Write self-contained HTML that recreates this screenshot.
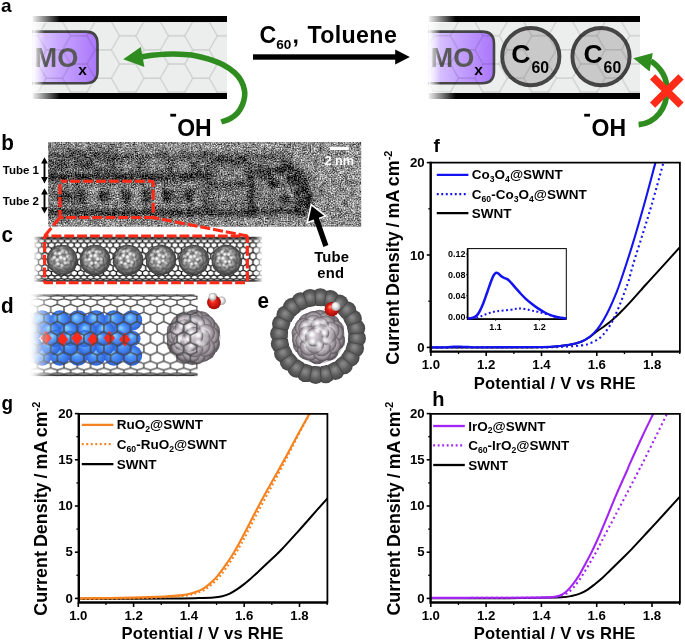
<!DOCTYPE html>
<html><head><meta charset="utf-8"><title>figure</title>
<style>html,body{margin:0;padding:0;background:#fff;}svg{display:block;will-change:transform;}text{font-family:"Liberation Sans",sans-serif;}</style></head>
<body>
<svg width="685" height="642" viewBox="0 0 685 642">
<defs>
<pattern id="hexL" width="48.9" height="28.23" patternUnits="userSpaceOnUse" patternTransform="translate(62.5,7.6)"><path d="M0,14.12 L8.15,0 L24.45,0 L32.6,14.12 L24.45,28.23 L8.15,28.23 Z M32.6,14.12 L48.9,14.12" fill="none" stroke="#000" stroke-width="0.7"/></pattern>
<pattern id="hexR" width="48.9" height="28.23" patternUnits="userSpaceOnUse" patternTransform="translate(34.7,7.5)"><path d="M0,14.12 L8.15,0 L24.45,0 L32.6,14.12 L24.45,28.23 L8.15,28.23 Z M32.6,14.12 L48.9,14.12" fill="none" stroke="#000" stroke-width="0.7"/></pattern>
<linearGradient id="fadeL" x1="0" x2="1" y1="0" y2="0"><stop offset="0" stop-color="#fff" stop-opacity="1"/><stop offset="1" stop-color="#fff" stop-opacity="0"/></linearGradient>
<linearGradient id="purp" x1="0" x2="1" y1="0" y2="0"><stop offset="0" stop-color="#e6d9ff"/><stop offset="0.45" stop-color="#c7a6ff"/><stop offset="1" stop-color="#aa76fb"/></linearGradient>
<filter id="tem" filterUnits="userSpaceOnUse" x="48.2" y="142" width="313" height="84.8" color-interpolation-filters="sRGB"><feTurbulence type="fractalNoise" baseFrequency="0.7" numOctaves="2" seed="11" result="n"/><feColorMatrix in="n" type="matrix" values="1 0 0 0 0  1 0 0 0 0  1 0 0 0 0  0 0 0 0 1" result="g"/><feTurbulence type="fractalNoise" baseFrequency="0.16" numOctaves="2" seed="5" result="n2"/><feColorMatrix in="n2" type="matrix" values="0 1 0 0 0  0 1 0 0 0  0 1 0 0 0  0 0 0 0 1" result="g2"/><feComposite in="SourceGraphic" in2="g2" operator="arithmetic" k1="0" k2="1" k3="0.4" k4="-0.2" result="s2"/><feComposite in="s2" in2="g" operator="arithmetic" k1="0" k2="1" k3="1.2" k4="-0.6" result="s3"/><feGaussianBlur in="s3" stdDeviation="0.6"/></filter>
<filter id="bl2" x="-20%" y="-50%" width="140%" height="200%"><feGaussianBlur stdDeviation="1.9"/></filter>
<filter id="bl4" x="-20%" y="-50%" width="140%" height="200%"><feGaussianBlur stdDeviation="4"/></filter>
<clipPath id="temclip"><rect x="48.2" y="142" width="313" height="84.8"/></clipPath>
<radialGradient id="gC" cx="0.5" cy="0.5" r="0.5" fx="0.42" fy="0.38"><stop offset="0" stop-color="#c2c2c2"/><stop offset="0.45" stop-color="#9c9c9c"/><stop offset="0.8" stop-color="#7a7a7a"/><stop offset="1" stop-color="#565656"/></radialGradient>
<radialGradient id="gL" cx="0.5" cy="0.5" r="0.5" fx="0.42" fy="0.38"><stop offset="0" stop-color="#e4dee4"/><stop offset="0.45" stop-color="#c8c0c8"/><stop offset="0.78" stop-color="#a79fa7"/><stop offset="1" stop-color="#6a636a"/></radialGradient>
<radialGradient id="gT" cx="0.5" cy="0.5" r="0.5" fx="0.46" fy="0.42"><stop offset="0" stop-color="#8e8e8e"/><stop offset="0.3" stop-color="#767676"/><stop offset="0.55" stop-color="#5e5e5e"/><stop offset="0.8" stop-color="#515151"/><stop offset="1" stop-color="#444"/></radialGradient>
<radialGradient id="gB" cx="0.5" cy="0.5" r="0.5" fx="0.36" fy="0.32"><stop offset="0" stop-color="#8ad6ff"/><stop offset="0.4" stop-color="#4f96fa"/><stop offset="1" stop-color="#2c62d8"/></radialGradient>
<radialGradient id="gR" cx="0.5" cy="0.5" r="0.5" fx="0.36" fy="0.32"><stop offset="0" stop-color="#ff9a82"/><stop offset="0.35" stop-color="#f5261a"/><stop offset="1" stop-color="#a00d08"/></radialGradient>
<radialGradient id="gW" cx="0.5" cy="0.5" r="0.5" fx="0.36" fy="0.32"><stop offset="0" stop-color="#ffffff"/><stop offset="0.5" stop-color="#ececec"/><stop offset="1" stop-color="#a0a0a0"/></radialGradient>
<radialGradient id="shade" cx="0.5" cy="0.5" r="0.5" fx="0.42" fy="0.38"><stop offset="0.35" stop-color="#000" stop-opacity="0"/><stop offset="0.8" stop-color="#000" stop-opacity="0.12"/><stop offset="1" stop-color="#000" stop-opacity="0.42"/></radialGradient>
<radialGradient id="hl" cx="0.5" cy="0.5" r="0.5"><stop offset="0" stop-color="#fff" stop-opacity="1"/><stop offset="0.35" stop-color="#fff" stop-opacity="0.75"/><stop offset="1" stop-color="#fff" stop-opacity="0"/></radialGradient>
<pattern id="meshC" width="6.5" height="45.4" patternUnits="userSpaceOnUse" patternTransform="translate(35.2,236.5)"><path d="M3.25,1L3.25,1.1M0,1.39L0,2.56M-3.25,1.1L0,1.39M6.5,1.39L6.5,2.56M3.25,1.1L6.5,1.39M3.25,1.1L0,1.39M9.75,1.1L6.5,1.39M3.25,3.41L3.25,5.65M0,2.56L3.25,3.41M0,2.56L-3.25,3.41M6.5,2.56L9.75,3.41M6.5,2.56L3.25,3.41M0,7L0,10.12M-3.25,5.65L0,7M6.5,7L6.5,10.12M3.25,5.65L6.5,7M3.25,5.65L0,7M9.75,5.65L6.5,7M3.25,11.85L3.25,15.61M0,10.12L3.25,11.85M0,10.12L-3.25,11.85M6.5,10.12L9.75,11.85M6.5,10.12L3.25,11.85M0,17.59L0,21.67M-3.25,15.61L0,17.59M6.5,17.59L6.5,21.67M3.25,15.61L6.5,17.59M3.25,15.61L0,17.59M9.75,15.61L6.5,17.59M3.25,23.74L3.25,27.82M0,21.67L3.25,23.74M0,21.67L-3.25,23.74M6.5,21.67L9.75,23.74M6.5,21.67L3.25,23.74M0,29.8L0,33.55M-3.25,27.82L0,29.8M6.5,29.8L6.5,33.55M3.25,27.82L6.5,29.8M3.25,27.82L0,29.8M9.75,27.82L6.5,29.8M3.25,35.29L3.25,38.41M0,33.55L3.25,35.29M0,33.55L-3.25,35.29M6.5,33.55L9.75,35.29M6.5,33.55L3.25,35.29M0,39.76L0,41.99M-3.25,38.41L0,39.76M6.5,39.76L6.5,41.99M3.25,38.41L6.5,39.76M3.25,38.41L0,39.76M9.75,38.41L6.5,39.76M3.25,42.85L3.25,44.01M0,41.99L3.25,42.85M0,41.99L-3.25,42.85M6.5,41.99L9.75,42.85M6.5,41.99L3.25,42.85M0,44.3L0,44.4M-3.25,44.01L0,44.3M6.5,44.3L6.5,44.4M3.25,44.01L6.5,44.3M3.25,44.01L0,44.3M9.75,44.01L6.5,44.3" fill="none" stroke="#1c1c1c" stroke-width="1.35" stroke-linecap="round"/></pattern>
<linearGradient id="fadeR" x1="1" x2="0" y1="0" y2="0"><stop offset="0" stop-color="#fff" stop-opacity="1"/><stop offset="1" stop-color="#fff" stop-opacity="0"/></linearGradient>
<pattern id="meshD" width="13.3" height="82.4" patternUnits="userSpaceOnUse" patternTransform="translate(37.4,294)"><path d="M6.65,1L6.65,1.61M0,2.37L0,4.76M-6.65,1.61L0,2.37M13.3,2.37L13.3,4.76M6.65,1.61L13.3,2.37M6.65,1.61L0,2.37M19.95,1.61L13.3,2.37M6.65,6.38L6.65,10.4M0,4.76L6.65,6.38M0,4.76L-6.65,6.38M13.3,4.76L19.95,6.38M13.3,4.76L6.65,6.38M0,12.77L0,18.13M-6.65,10.4L0,12.77M13.3,12.77L13.3,18.13M6.65,10.4L13.3,12.77M6.65,10.4L0,12.77M19.95,10.4L13.3,12.77M6.65,21.09L6.65,27.44M0,18.13L6.65,21.09M0,18.13L-6.65,21.09M13.3,18.13L19.95,21.09M13.3,18.13L6.65,21.09M0,30.79L0,37.69M-6.65,27.44L0,30.79M13.3,30.79L13.3,37.69M6.65,27.44L13.3,30.79M6.65,27.44L0,30.79M19.95,27.44L13.3,30.79M6.65,41.19L6.65,48.17M0,37.69L6.65,41.19M0,37.69L-6.65,41.19M13.3,37.69L19.95,41.19M13.3,37.69L6.65,41.19M0,51.59L0,58.18M-6.65,48.17L0,51.59M13.3,51.59L13.3,58.18M6.65,48.17L13.3,51.59M6.65,48.17L0,51.59M19.95,48.17L13.3,51.59M6.65,61.29L6.65,67.03M0,58.18L6.65,61.29M0,58.18L-6.65,61.29M13.3,58.18L19.95,61.29M13.3,58.18L6.65,61.29M0,69.62L0,74.12M-6.65,67.03L0,69.62M13.3,69.62L13.3,74.12M6.65,67.03L13.3,69.62M6.65,67.03L0,69.62M19.95,67.03L13.3,69.62M6.65,76.01L6.65,78.97M0,74.12L6.65,76.01M0,74.12L-6.65,76.01M13.3,74.12L19.95,76.01M13.3,74.12L6.65,76.01M0,80.03L0,81.25M-6.65,78.97L0,80.03M13.3,80.03L13.3,81.25M6.65,78.97L13.3,80.03M6.65,78.97L0,80.03M19.95,78.97L13.3,80.03M6.65,81.4L6.65,81.4M0,81.25L6.65,81.4M0,81.25L-6.65,81.4M13.3,81.25L19.95,81.4M13.3,81.25L6.65,81.4" fill="none" stroke="#444" stroke-width="1.35" stroke-linecap="round"/></pattern>
<clipPath id="w0"><path d="M318,336.1 L381.82,331.31 L380.79,348.49 Z"/></clipPath>
<clipPath id="w1"><path d="M318,336.1 L380.89,347.99 L375.44,364.32 Z"/></clipPath>
<clipPath id="w2"><path d="M318,336.1 L375.66,363.86 L366.18,378.23 Z"/></clipPath>
<clipPath id="w3"><path d="M318,336.1 L366.51,377.84 L353.63,389.26 Z"/></clipPath>
<clipPath id="w4"><path d="M318,336.1 L354.06,388.98 L338.66,396.67 Z"/></clipPath>
<clipPath id="w5"><path d="M318,336.1 L339.14,396.51 L322.28,399.96 Z"/></clipPath>
<clipPath id="w6"><path d="M318,336.1 L322.79,399.92 L305.61,398.89 Z"/></clipPath>
<clipPath id="w7"><path d="M318,336.1 L306.11,398.99 L289.78,393.54 Z"/></clipPath>
<clipPath id="w8"><path d="M318,336.1 L290.24,393.76 L275.87,384.28 Z"/></clipPath>
<clipPath id="w9"><path d="M318,336.1 L276.26,384.61 L264.84,371.73 Z"/></clipPath>
<clipPath id="w10"><path d="M318,336.1 L265.12,372.16 L257.43,356.76 Z"/></clipPath>
<clipPath id="w11"><path d="M318,336.1 L257.59,357.24 L254.14,340.38 Z"/></clipPath>
<clipPath id="w12"><path d="M318,336.1 L254.18,340.89 L255.21,323.71 Z"/></clipPath>
<clipPath id="w13"><path d="M318,336.1 L255.11,324.21 L260.56,307.88 Z"/></clipPath>
<clipPath id="w14"><path d="M318,336.1 L260.34,308.34 L269.82,293.97 Z"/></clipPath>
<clipPath id="w15"><path d="M318,336.1 L269.49,294.36 L282.37,282.94 Z"/></clipPath>
<clipPath id="w16"><path d="M318,336.1 L281.94,283.22 L297.34,275.53 Z"/></clipPath>
<clipPath id="w17"><path d="M318,336.1 L296.86,275.69 L313.72,272.24 Z"/></clipPath>
<clipPath id="w18"><path d="M318,336.1 L313.21,272.28 L330.39,273.31 Z"/></clipPath>
<clipPath id="w19"><path d="M318,336.1 L329.89,273.21 L346.22,278.66 Z"/></clipPath>
<clipPath id="w20"><path d="M318,336.1 L345.76,278.44 L360.13,287.92 Z"/></clipPath>
<clipPath id="w21"><path d="M318,336.1 L359.74,287.59 L371.16,300.47 Z"/></clipPath>
<clipPath id="w22"><path d="M318,336.1 L370.88,300.04 L378.57,315.44 Z"/></clipPath>
<clipPath id="w23"><path d="M318,336.1 L378.41,314.96 L381.86,331.82 Z"/></clipPath>
<radialGradient id="ringshade" cx="0.5" cy="0.5" r="0.5"><stop offset="0.62" stop-color="#fff" stop-opacity="1"/><stop offset="0.66" stop-color="#fff" stop-opacity="0"/></radialGradient>
<clipPath id="clip593"><rect x="430.7" y="162.6" width="249.2" height="189"/></clipPath>
<clipPath id="clipins"><rect x="467.6" y="248.6" width="98.7" height="71.6"/></clipPath>
<clipPath id="clip492"><rect x="78.8" y="413.8" width="248.6" height="188.7"/></clipPath>
<clipPath id="clip844"><rect x="430.6" y="413.8" width="249.3" height="188.7"/></clipPath>
</defs>
<rect width="685" height="642" fill="#fff"/>
<text x="1" y="11.8" font-family="Liberation Sans, sans-serif" font-weight="bold" font-size="19" fill="#000">a</text>
<rect x="32" y="22" width="195" height="71" fill="#eceded"/>
<rect x="32" y="16" width="195" height="6" fill="#000"/>
<rect x="32" y="93" width="195" height="6" fill="#000"/>
<path d="M28,31.6 L85.5,31.6 Q97.5,31.6 97.5,43.6 L97.5,71.2 Q97.5,83.2 85.5,83.2 L28,83.2" fill="url(#purp)" stroke="#454545" stroke-width="2.6"/>
<text x="34.6" y="66.6" font-family="Liberation Sans, sans-serif" font-weight="bold" font-size="27.2" fill="#595959">MO</text>
<text x="78.2" y="74.8" font-family="Liberation Sans, sans-serif" font-weight="bold" font-size="15.5" fill="#000">x</text>
<rect x="428" y="22" width="212" height="71" fill="#eceded"/>
<rect x="428" y="16" width="212" height="6" fill="#000"/>
<rect x="428" y="93" width="212" height="6" fill="#000"/>
<path d="M424,31.6 L482,31.6 Q494,31.6 494,43.6 L494,71.2 Q494,83.2 482,83.2 L424,83.2" fill="url(#purp)" stroke="#454545" stroke-width="2.6"/>
<text x="430.6" y="66.6" font-family="Liberation Sans, sans-serif" font-weight="bold" font-size="27.2" fill="#595959">MO</text>
<text x="474.2" y="74.8" font-family="Liberation Sans, sans-serif" font-weight="bold" font-size="15.5" fill="#000">x</text>
<circle cx="530.8" cy="56.6" r="28.6" fill="#c9c9c9" stroke="#454545" stroke-width="3.9"/>
<text x="511.2" y="62.8" font-family="Liberation Sans, sans-serif" font-weight="bold" font-size="26.5" fill="#000">C</text>
<text x="531.4" y="72.8" font-family="Liberation Sans, sans-serif" font-weight="bold" font-size="15.8" fill="#000">60</text>
<circle cx="601" cy="56.6" r="28.6" fill="#c9c9c9" stroke="#454545" stroke-width="3.9"/>
<text x="583.4" y="62.8" font-family="Liberation Sans, sans-serif" font-weight="bold" font-size="26.5" fill="#000">C</text>
<text x="603.6" y="72.8" font-family="Liberation Sans, sans-serif" font-weight="bold" font-size="15.8" fill="#000">60</text>
<rect x="32" y="22" width="195" height="71" fill="url(#hexL)" opacity="0.27"/>
<rect x="32.5" y="22" width="12" height="71" fill="url(#fadeL)"/>
<rect x="31" y="15" width="29" height="8" fill="url(#fadeL)"/>
<rect x="31" y="92" width="29" height="8" fill="url(#fadeL)"/>
<rect x="25" y="14" width="7.6" height="87" fill="#fff"/>
<rect x="428" y="22" width="212" height="71" fill="url(#hexR)" opacity="0.27"/>
<rect x="428.5" y="22" width="12" height="71" fill="url(#fadeL)"/>
<rect x="427" y="15" width="29" height="8" fill="url(#fadeL)"/>
<rect x="427" y="92" width="29" height="8" fill="url(#fadeL)"/>
<rect x="421" y="14" width="7.6" height="87" fill="#fff"/>
<rect x="253" y="54.3" width="144" height="5.4" fill="#000"/>
<path d="M395.2,49.4 L409.8,57 L395.2,64.6 Z" fill="#000"/>
<text x="259.4" y="42.8" font-family="Liberation Sans, sans-serif" font-weight="bold" font-size="23.2" fill="#000">C<tspan font-size="13.6" dy="6.6">60</tspan></text>
<text x="292.4" y="42.8" font-family="Liberation Sans, sans-serif" font-weight="bold" font-size="23.2" fill="#000">,</text>
<text x="307.4" y="42.8" font-family="Liberation Sans, sans-serif" font-weight="bold" font-size="23.2" textLength="89.4" fill="#000">Toluene</text>
<path d="M142,56.8 C143.67,56.55 148.17,55.73 152,55.3 C155.83,54.87 160.33,54.38 165,54.2 C169.67,54.02 175.17,54 180,54.2 C184.83,54.4 189.33,54.62 194,55.4 C198.67,56.18 203.17,57.33 208,58.9 C212.83,60.47 218.57,62.52 223,64.8 C227.43,67.08 231.57,69.93 234.6,72.6 C237.63,75.27 239.57,77.93 241.2,80.8 C242.83,83.67 243.83,87.18 244.4,89.8 C244.97,92.42 244.92,94.03 244.6,96.5 C244.28,98.97 243.67,101.87 242.5,104.6 C241.33,107.33 239.62,110.58 237.6,112.9 C235.58,115.22 233.12,116.98 230.4,118.5 C227.68,120.02 222.82,121.42 221.3,122" fill="none" stroke="#2f8c1f" stroke-width="5.6" stroke-linecap="butt"/>
<path d="M123.2,59.2 L140.8,47 L144.4,67 Z" fill="#2f8c1f"/>
<text x="177.2" y="136.2" font-family="Liberation Sans, sans-serif" font-weight="bold" font-size="23" fill="#000">OH</text>
<rect x="170.3" y="113.8" width="5.8" height="2.8" fill="#000"/>
<path d="M638.6,124.6 C656,123 667,108 667,90 C667,78 661,68 651,61" fill="none" stroke="#2f8c1f" stroke-width="5.6"/>
<path d="M633.4,58.2 L652.8,53 L649.6,71.4 Z" fill="#2f8c1f"/>
<path d="M652.6,76.8 L681,105.2 M681,76.8 L652.6,105.2" stroke="#ff2a17" stroke-width="7.4" fill="none"/>
<text x="591.6" y="136.4" font-family="Liberation Sans, sans-serif" font-weight="bold" font-size="23" fill="#000">OH</text>
<rect x="584.2" y="113.8" width="5.8" height="2.8" fill="#000"/>
<text transform="translate(1.2,150) scale(0.92,1)" font-family="Liberation Sans, sans-serif" font-weight="bold" font-size="22.5" fill="#000">b</text>
<text transform="translate(1.6,242.4) scale(0.92,1)" font-family="Liberation Sans, sans-serif" font-weight="bold" font-size="22.5" fill="#000">c</text>
<g clip-path="url(#temclip)"><g filter="url(#tem)">
<rect x="40" y="136" width="330" height="100" fill="#8e8e8e"/>
<g filter="url(#bl4)">
<path d="M40,152 L285,154 C300,158 312,172 316,208 L316,216 L40,218 Z" fill="#787878"/>
<path d="M40,148 L120,150 L120,172 L40,172 Z" fill="#5e5e5e"/>
</g>
<g filter="url(#bl2)" fill="none" stroke-linecap="round">
<path d="M40,156 L282,157" stroke="#4a4a4a" stroke-width="4.5"/>
<path d="M40,177 L180,177 L210,175" stroke="#262626" stroke-width="6.5"/>
<path d="M40,212.5 L200,213 L305,212" stroke="#282828" stroke-width="5.5"/>
<path d="M284,164 C300,170 309,186 310,206" stroke="#1c1c1c" stroke-width="5.5"/>
<circle cx="64" cy="196" r="6.2" fill="#2e2e2e" stroke="none"/>
<circle cx="80" cy="196" r="6.2" fill="#2e2e2e" stroke="none"/>
<circle cx="104" cy="196" r="6.2" fill="#2e2e2e" stroke="none"/>
<circle cx="126" cy="196" r="6.2" fill="#2e2e2e" stroke="none"/>
<circle cx="147" cy="196" r="6.2" fill="#2e2e2e" stroke="none"/>
<circle cx="168" cy="196" r="6.2" fill="#2e2e2e" stroke="none"/>
<circle cx="188" cy="196" r="6.2" fill="#2e2e2e" stroke="none"/>
<rect x="90" y="186" width="6" height="18" fill="#989898" stroke="none"/>
<rect x="113" y="186" width="6" height="18" fill="#989898" stroke="none"/>
<rect x="133" y="186" width="6" height="18" fill="#989898" stroke="none"/>
<rect x="154" y="186" width="6" height="18" fill="#989898" stroke="none"/>
<circle cx="58" cy="166" r="4.5" fill="#484848" stroke="none"/>
<circle cx="84" cy="166" r="4.5" fill="#484848" stroke="none"/>
<circle cx="110" cy="166" r="4.5" fill="#484848" stroke="none"/>
<circle cx="140" cy="166" r="4.5" fill="#484848" stroke="none"/>
<circle cx="170" cy="166" r="4.5" fill="#484848" stroke="none"/>
<circle cx="196" cy="166" r="4.5" fill="#484848" stroke="none"/>
<circle cx="125" cy="165" r="4" fill="#8e8e8e" stroke="none"/>
<circle cx="155" cy="165" r="4" fill="#8e8e8e" stroke="none"/>
<circle cx="184" cy="165" r="4" fill="#8e8e8e" stroke="none"/>
<rect x="208" y="162" width="42" height="50" rx="8" stroke="#343434" stroke-width="4.5"/>
<rect x="252" y="170" width="46" height="42" rx="8" stroke="#343434" stroke-width="4.5"/>
<path d="M208,186 L250,184" stroke="#444" stroke-width="4"/>
<circle cx="281" cy="170" r="4.8" fill="#262626" stroke="none"/>
<circle cx="291" cy="180" r="4.8" fill="#262626" stroke="none"/>
<circle cx="299" cy="192" r="4.8" fill="#262626" stroke="none"/>
<circle cx="304" cy="203" r="4.8" fill="#262626" stroke="none"/>
<circle cx="274" cy="184" r="4.8" fill="#262626" stroke="none"/>
<circle cx="285" cy="200" r="4.8" fill="#262626" stroke="none"/>
<circle cx="266" cy="176" r="4.8" fill="#262626" stroke="none"/>
</g>
</g></g>
<rect x="330" y="146.8" width="18.8" height="3.2" fill="#fff"/>
<text x="339.2" y="165.3" font-family="Liberation Sans, sans-serif" font-weight="bold" font-size="12.6" fill="#fff" text-anchor="middle">2 nm</text>
<text x="2.8" y="174.4" font-family="Liberation Sans, sans-serif" font-weight="bold" font-size="11.5" fill="#000">Tube 1</text>
<text x="2.8" y="205" font-family="Liberation Sans, sans-serif" font-weight="bold" font-size="11.5" fill="#000">Tube 2</text>
<path d="M44.5,161.2 L44.5,179.4" stroke="#000" stroke-width="1.9" fill="none"/>
<path d="M44.5,157.2 l3.4,6.4 l-6.8,0 Z M44.5,183.4 l3.4,-6.4 l-6.8,0 Z" fill="#000"/>
<path d="M44.5,192.2 L44.5,209.6" stroke="#000" stroke-width="1.9" fill="none"/>
<path d="M44.5,188.2 l3.4,6.4 l-6.8,0 Z M44.5,213.6 l3.4,-6.4 l-6.8,0 Z" fill="#000"/>
<rect x="60" y="181.3" width="93.2" height="36.2" rx="1.6" fill="none" stroke="#ff2a17" stroke-width="3.1" stroke-dasharray="10.1,2.84" stroke-dashoffset="4.4"/>
<path d="M60,217.5 L44.6,236" stroke="#ff2a17" stroke-width="3.1" fill="none" stroke-dasharray="10.4,3.2"/>
<path d="M153.2,217.5 L247.4,236" stroke="#ff2a17" stroke-width="3.1" fill="none" stroke-dasharray="10.1,2.9" stroke-dashoffset="4"/>
<path d="M311.7,206 L324.1,215.8 L308.3,221.5 Z" fill="#000" stroke="#fff" stroke-width="3.2" stroke-linejoin="miter"/>
<path d="M311.7,206 L324.1,215.8 L318.8,217.7 L328.4,245.1 L323.4,246.9 L313.7,219.5 L308.3,221.5 Z" fill="#000"/>
<text x="314.3" y="262.2" font-family="Liberation Sans, sans-serif" font-weight="bold" font-size="14.8" textLength="34.6" fill="#000">Tube</text>
<text x="317.2" y="278" font-family="Liberation Sans, sans-serif" font-weight="bold" font-size="14.8" textLength="26.8" fill="#000">end</text>
<rect x="34" y="236.5" width="228" height="45.4" fill="url(#meshC)"/>
<path d="M34,237.5 L262,237.5 M34,280.9 L262,280.9" stroke="#3a3a3a" stroke-width="1"/>
<g>
<circle cx="65.6" cy="269.44" r="5.31" fill="url(#gC)"/>
<circle cx="54.8" cy="253.19" r="5.31" fill="url(#gC)"/>
<circle cx="72.27" cy="261.48" r="5.31" fill="url(#gC)"/>
<circle cx="58.07" cy="250.69" r="5.31" fill="url(#gC)"/>
<circle cx="52.05" cy="261.02" r="5.31" fill="url(#gC)"/>
<circle cx="70.89" cy="265.4" r="5.31" fill="url(#gC)"/>
<circle cx="58.5" cy="269.57" r="5.31" fill="url(#gC)"/>
<circle cx="53.1" cy="264.85" r="5.31" fill="url(#gC)"/>
<circle cx="71.3" cy="255.15" r="5.31" fill="url(#gC)"/>
<circle cx="65.9" cy="250.43" r="5.31" fill="url(#gC)"/>
<circle cx="53.51" cy="254.6" r="5.31" fill="url(#gC)"/>
<circle cx="72.35" cy="258.98" r="5.31" fill="url(#gC)"/>
<circle cx="66.33" cy="269.31" r="5.31" fill="url(#gC)"/>
<circle cx="52.13" cy="258.52" r="5.31" fill="url(#gC)"/>
<circle cx="69.6" cy="266.81" r="5.31" fill="url(#gC)"/>
<circle cx="58.8" cy="250.56" r="5.31" fill="url(#gC)"/>
<circle cx="68.97" cy="252.73" r="5.31" fill="url(#gC)"/>
<circle cx="59.23" cy="269.44" r="5.31" fill="url(#gC)"/>
<circle cx="53.83" cy="264.73" r="5.31" fill="url(#gC)"/>
<circle cx="62.72" cy="250.43" r="5.31" fill="url(#gC)"/>
<circle cx="55.98" cy="252.98" r="5.31" fill="url(#gC)"/>
<circle cx="63.14" cy="269.31" r="5.31" fill="url(#gC)"/>
<circle cx="53.23" cy="260.81" r="5.31" fill="url(#gC)"/>
<circle cx="71.06" cy="260.4" r="5.31" fill="url(#gC)"/>
<circle cx="56.89" cy="267.02" r="5.31" fill="url(#gC)"/>
<circle cx="69.68" cy="264.32" r="5.31" fill="url(#gC)"/>
<circle cx="67.68" cy="254.14" r="5.31" fill="url(#gC)"/>
<circle cx="63.81" cy="252.73" r="5.31" fill="url(#gC)"/>
<circle cx="57.08" cy="255.27" r="5.31" fill="url(#gC)"/>
<circle cx="63.23" cy="266.81" r="5.31" fill="url(#gC)"/>
<circle cx="68.72" cy="257.98" r="5.31" fill="url(#gC)"/>
<circle cx="55.7" cy="259.19" r="5.31" fill="url(#gC)"/>
<circle cx="59.36" cy="265.4" r="5.31" fill="url(#gC)"/>
<circle cx="66.5" cy="264.32" r="5.31" fill="url(#gC)"/>
<circle cx="60.99" cy="255.15" r="5.31" fill="url(#gC)"/>
<circle cx="58.77" cy="261.48" r="5.31" fill="url(#gC)"/>
<circle cx="65.9" cy="260.4" r="5.31" fill="url(#gC)"/>
<circle cx="62.04" cy="258.98" r="5.31" fill="url(#gC)"/>
<circle cx="62.2" cy="260" r="15.1" fill="url(#shade)" opacity="1.0"/>
<circle cx="52.44" cy="263.13" r="2.44" fill="url(#hl)" opacity="0.25"/>
<circle cx="61.33" cy="248.84" r="2.44" fill="url(#hl)" opacity="0.26"/>
<circle cx="54.6" cy="251.39" r="2.44" fill="url(#hl)" opacity="0.33"/>
<circle cx="61.76" cy="267.72" r="2.44" fill="url(#hl)" opacity="0.34"/>
<circle cx="51.85" cy="259.22" r="2.44" fill="url(#hl)" opacity="0.44"/>
<circle cx="69.68" cy="258.81" r="2.44" fill="url(#hl)" opacity="0.48"/>
<circle cx="55.51" cy="265.43" r="2.44" fill="url(#hl)" opacity="0.5"/>
<circle cx="68.3" cy="262.72" r="2.44" fill="url(#hl)" opacity="0.54"/>
<circle cx="66.3" cy="252.55" r="2.44" fill="url(#hl)" opacity="0.66"/>
<circle cx="62.43" cy="251.13" r="2.44" fill="url(#hl)" opacity="0.76"/>
<circle cx="55.7" cy="253.68" r="2.44" fill="url(#hl)" opacity="0.83"/>
<circle cx="61.85" cy="265.22" r="2.44" fill="url(#hl)" opacity="0.84"/>
<circle cx="67.34" cy="256.39" r="2.44" fill="url(#hl)" opacity="0.85"/>
<circle cx="54.32" cy="257.6" r="2.44" fill="url(#hl)" opacity="0.88"/>
<circle cx="57.98" cy="263.8" r="2.44" fill="url(#hl)" opacity="0.94"/>
<circle cx="65.12" cy="262.72" r="2.44" fill="url(#hl)" opacity="0.94"/>
<circle cx="59.61" cy="253.55" r="2.44" fill="url(#hl)" opacity="1"/>
<circle cx="57.39" cy="259.89" r="2.44" fill="url(#hl)" opacity="1"/>
<circle cx="64.52" cy="258.81" r="2.44" fill="url(#hl)" opacity="1"/>
<circle cx="60.66" cy="257.39" r="2.44" fill="url(#hl)" opacity="1"/>
</g>
<g>
<circle cx="88.97" cy="268.13" r="5.31" fill="url(#gC)"/>
<circle cx="86" cy="255.4" r="5.31" fill="url(#gC)"/>
<circle cx="85.19" cy="262.56" r="5.31" fill="url(#gC)"/>
<circle cx="102.41" cy="267.2" r="5.31" fill="url(#gC)"/>
<circle cx="103.59" cy="254.18" r="5.31" fill="url(#gC)"/>
<circle cx="105.34" cy="261.17" r="5.31" fill="url(#gC)"/>
<circle cx="92.42" cy="269.96" r="5.31" fill="url(#gC)"/>
<circle cx="91.07" cy="250.5" r="5.31" fill="url(#gC)"/>
<circle cx="99.13" cy="269.5" r="5.31" fill="url(#gC)"/>
<circle cx="97.78" cy="250.04" r="5.31" fill="url(#gC)"/>
<circle cx="84.86" cy="258.83" r="5.31" fill="url(#gC)"/>
<circle cx="86.61" cy="265.82" r="5.31" fill="url(#gC)"/>
<circle cx="87.79" cy="252.8" r="5.31" fill="url(#gC)"/>
<circle cx="105.01" cy="257.44" r="5.31" fill="url(#gC)"/>
<circle cx="104.2" cy="264.6" r="5.31" fill="url(#gC)"/>
<circle cx="101.23" cy="251.87" r="5.31" fill="url(#gC)"/>
<circle cx="94.3" cy="250.03" r="5.31" fill="url(#gC)"/>
<circle cx="93.5" cy="269.49" r="5.31" fill="url(#gC)"/>
<circle cx="97.66" cy="269.2" r="5.31" fill="url(#gC)"/>
<circle cx="85.94" cy="258.35" r="5.31" fill="url(#gC)"/>
<circle cx="87.7" cy="265.34" r="5.31" fill="url(#gC)"/>
<circle cx="87.76" cy="254.62" r="5.31" fill="url(#gC)"/>
<circle cx="103.53" cy="257.14" r="5.31" fill="url(#gC)"/>
<circle cx="101.19" cy="253.7" r="5.31" fill="url(#gC)"/>
<circle cx="102.72" cy="264.3" r="5.31" fill="url(#gC)"/>
<circle cx="91.15" cy="267.18" r="5.31" fill="url(#gC)"/>
<circle cx="94.27" cy="251.85" r="5.31" fill="url(#gC)"/>
<circle cx="99.45" cy="266.6" r="5.31" fill="url(#gC)"/>
<circle cx="87.36" cy="261.61" r="5.31" fill="url(#gC)"/>
<circle cx="102.39" cy="260.57" r="5.31" fill="url(#gC)"/>
<circle cx="90.99" cy="254.15" r="5.31" fill="url(#gC)"/>
<circle cx="97.71" cy="253.69" r="5.31" fill="url(#gC)"/>
<circle cx="92.94" cy="264.58" r="5.31" fill="url(#gC)"/>
<circle cx="97.09" cy="264.29" r="5.31" fill="url(#gC)"/>
<circle cx="90.6" cy="261.14" r="5.31" fill="url(#gC)"/>
<circle cx="98.91" cy="260.56" r="5.31" fill="url(#gC)"/>
<circle cx="92.42" cy="257.41" r="5.31" fill="url(#gC)"/>
<circle cx="96.57" cy="257.12" r="5.31" fill="url(#gC)"/>
<circle cx="95.1" cy="260" r="15.1" fill="url(#shade)" opacity="1.0"/>
<circle cx="92.12" cy="267.89" r="2.44" fill="url(#hl)" opacity="0.25"/>
<circle cx="96.27" cy="267.61" r="2.44" fill="url(#hl)" opacity="0.28"/>
<circle cx="84.56" cy="256.76" r="2.44" fill="url(#hl)" opacity="0.36"/>
<circle cx="86.32" cy="263.75" r="2.44" fill="url(#hl)" opacity="0.41"/>
<circle cx="86.38" cy="253.03" r="2.44" fill="url(#hl)" opacity="0.42"/>
<circle cx="102.15" cy="255.55" r="2.44" fill="url(#hl)" opacity="0.47"/>
<circle cx="99.81" cy="252.1" r="2.44" fill="url(#hl)" opacity="0.51"/>
<circle cx="101.34" cy="262.71" r="2.44" fill="url(#hl)" opacity="0.51"/>
<circle cx="89.76" cy="265.58" r="2.44" fill="url(#hl)" opacity="0.63"/>
<circle cx="92.89" cy="250.26" r="2.44" fill="url(#hl)" opacity="0.63"/>
<circle cx="98.07" cy="265.01" r="2.44" fill="url(#hl)" opacity="0.68"/>
<circle cx="85.98" cy="260.01" r="2.44" fill="url(#hl)" opacity="0.68"/>
<circle cx="101.01" cy="258.98" r="2.44" fill="url(#hl)" opacity="0.78"/>
<circle cx="89.61" cy="252.56" r="2.44" fill="url(#hl)" opacity="0.81"/>
<circle cx="96.33" cy="252.1" r="2.44" fill="url(#hl)" opacity="0.85"/>
<circle cx="91.56" cy="262.98" r="2.44" fill="url(#hl)" opacity="1"/>
<circle cx="95.71" cy="262.7" r="2.44" fill="url(#hl)" opacity="1"/>
<circle cx="89.22" cy="259.54" r="2.44" fill="url(#hl)" opacity="1"/>
<circle cx="97.52" cy="258.97" r="2.44" fill="url(#hl)" opacity="1"/>
<circle cx="91.04" cy="255.82" r="2.44" fill="url(#hl)" opacity="1"/>
<circle cx="95.19" cy="255.53" r="2.44" fill="url(#hl)" opacity="1"/>
</g>
<g>
<circle cx="133.54" cy="251.61" r="5.31" fill="url(#gC)"/>
<circle cx="121.6" cy="252.21" r="5.31" fill="url(#gC)"/>
<circle cx="121.96" cy="268.18" r="5.31" fill="url(#gC)"/>
<circle cx="117.97" cy="262.22" r="5.31" fill="url(#gC)"/>
<circle cx="132.27" cy="269.35" r="5.31" fill="url(#gC)"/>
<circle cx="118.96" cy="255.08" r="5.31" fill="url(#gC)"/>
<circle cx="128.24" cy="270.3" r="5.31" fill="url(#gC)"/>
<circle cx="127.76" cy="249.7" r="5.31" fill="url(#gC)"/>
<circle cx="137.04" cy="264.92" r="5.31" fill="url(#gC)"/>
<circle cx="123.73" cy="250.65" r="5.31" fill="url(#gC)"/>
<circle cx="138.03" cy="257.78" r="5.31" fill="url(#gC)"/>
<circle cx="134.04" cy="251.82" r="5.31" fill="url(#gC)"/>
<circle cx="134.4" cy="267.79" r="5.31" fill="url(#gC)"/>
<circle cx="122.46" cy="268.39" r="5.31" fill="url(#gC)"/>
<circle cx="137.78" cy="261.46" r="5.31" fill="url(#gC)"/>
<circle cx="126.33" cy="269.7" r="5.31" fill="url(#gC)"/>
<circle cx="118.46" cy="262.43" r="5.31" fill="url(#gC)"/>
<circle cx="119.45" cy="255.29" r="5.31" fill="url(#gC)"/>
<circle cx="136.28" cy="254.91" r="5.31" fill="url(#gC)"/>
<circle cx="130.47" cy="250.64" r="5.31" fill="url(#gC)"/>
<circle cx="122.4" cy="252.55" r="5.31" fill="url(#gC)"/>
<circle cx="120.71" cy="265.51" r="5.31" fill="url(#gC)"/>
<circle cx="119.21" cy="258.96" r="5.31" fill="url(#gC)"/>
<circle cx="132.49" cy="267.18" r="5.31" fill="url(#gC)"/>
<circle cx="128.46" cy="268.14" r="5.31" fill="url(#gC)"/>
<circle cx="135.88" cy="260.85" r="5.31" fill="url(#gC)"/>
<circle cx="134.95" cy="256.8" r="5.31" fill="url(#gC)"/>
<circle cx="129.14" cy="252.54" r="5.31" fill="url(#gC)"/>
<circle cx="125.11" cy="253.49" r="5.31" fill="url(#gC)"/>
<circle cx="122.84" cy="263.95" r="5.31" fill="url(#gC)"/>
<circle cx="133.24" cy="263.72" r="5.31" fill="url(#gC)"/>
<circle cx="121.91" cy="259.9" r="5.31" fill="url(#gC)"/>
<circle cx="131.38" cy="255.62" r="5.31" fill="url(#gC)"/>
<circle cx="126.71" cy="265.27" r="5.31" fill="url(#gC)"/>
<circle cx="124.86" cy="257.17" r="5.31" fill="url(#gC)"/>
<circle cx="129.66" cy="262.53" r="5.31" fill="url(#gC)"/>
<circle cx="128.74" cy="258.48" r="5.31" fill="url(#gC)"/>
<circle cx="128" cy="260" r="15.1" fill="url(#shade)" opacity="1.0"/>
<circle cx="118.07" cy="253.69" r="2.44" fill="url(#hl)" opacity="0.19"/>
<circle cx="134.9" cy="253.31" r="2.44" fill="url(#hl)" opacity="0.21"/>
<circle cx="129.09" cy="249.04" r="2.44" fill="url(#hl)" opacity="0.22"/>
<circle cx="121.02" cy="250.96" r="2.44" fill="url(#hl)" opacity="0.35"/>
<circle cx="119.33" cy="263.92" r="2.44" fill="url(#hl)" opacity="0.41"/>
<circle cx="117.83" cy="257.37" r="2.44" fill="url(#hl)" opacity="0.48"/>
<circle cx="131.11" cy="265.59" r="2.44" fill="url(#hl)" opacity="0.57"/>
<circle cx="127.08" cy="266.55" r="2.44" fill="url(#hl)" opacity="0.64"/>
<circle cx="134.5" cy="259.26" r="2.44" fill="url(#hl)" opacity="0.68"/>
<circle cx="133.57" cy="255.21" r="2.44" fill="url(#hl)" opacity="0.73"/>
<circle cx="127.76" cy="250.94" r="2.44" fill="url(#hl)" opacity="0.74"/>
<circle cx="123.73" cy="251.9" r="2.44" fill="url(#hl)" opacity="0.81"/>
<circle cx="121.46" cy="262.36" r="2.44" fill="url(#hl)" opacity="0.89"/>
<circle cx="131.85" cy="262.12" r="2.44" fill="url(#hl)" opacity="0.9"/>
<circle cx="120.53" cy="258.31" r="2.44" fill="url(#hl)" opacity="0.94"/>
<circle cx="130" cy="254.03" r="2.44" fill="url(#hl)" opacity="0.99"/>
<circle cx="125.33" cy="263.67" r="2.44" fill="url(#hl)" opacity="1"/>
<circle cx="123.48" cy="255.58" r="2.44" fill="url(#hl)" opacity="1"/>
<circle cx="128.28" cy="260.94" r="2.44" fill="url(#hl)" opacity="1"/>
<circle cx="127.36" cy="256.89" r="2.44" fill="url(#hl)" opacity="1"/>
</g>
<g>
<circle cx="170.71" cy="257.93" r="5.31" fill="url(#gC)"/>
<circle cx="165.75" cy="268.8" r="5.31" fill="url(#gC)"/>
<circle cx="161.79" cy="270.07" r="5.31" fill="url(#gC)"/>
<circle cx="165.87" cy="251.16" r="5.31" fill="url(#gC)"/>
<circle cx="161.93" cy="249.86" r="5.31" fill="url(#gC)"/>
<circle cx="153.9" cy="267.45" r="5.31" fill="url(#gC)"/>
<circle cx="151.49" cy="264.07" r="5.31" fill="url(#gC)"/>
<circle cx="154.01" cy="252.39" r="5.31" fill="url(#gC)"/>
<circle cx="151.55" cy="255.74" r="5.31" fill="url(#gC)"/>
<circle cx="170.25" cy="264.26" r="5.31" fill="url(#gC)"/>
<circle cx="167.79" cy="267.61" r="5.31" fill="url(#gC)"/>
<circle cx="170.31" cy="255.93" r="5.31" fill="url(#gC)"/>
<circle cx="167.9" cy="252.55" r="5.31" fill="url(#gC)"/>
<circle cx="159.87" cy="270.14" r="5.31" fill="url(#gC)"/>
<circle cx="155.93" cy="268.84" r="5.31" fill="url(#gC)"/>
<circle cx="160.01" cy="249.93" r="5.31" fill="url(#gC)"/>
<circle cx="156.05" cy="251.2" r="5.31" fill="url(#gC)"/>
<circle cx="151.09" cy="262.07" r="5.31" fill="url(#gC)"/>
<circle cx="151.12" cy="257.91" r="5.31" fill="url(#gC)"/>
<circle cx="169.86" cy="262.26" r="5.31" fill="url(#gC)"/>
<circle cx="169.89" cy="258.1" r="5.31" fill="url(#gC)"/>
<circle cx="165.87" cy="267.69" r="5.31" fill="url(#gC)"/>
<circle cx="161.91" cy="268.96" r="5.31" fill="url(#gC)"/>
<circle cx="165.98" cy="252.62" r="5.31" fill="url(#gC)"/>
<circle cx="162.04" cy="251.32" r="5.31" fill="url(#gC)"/>
<circle cx="155.53" cy="266.84" r="5.31" fill="url(#gC)"/>
<circle cx="153.12" cy="263.46" r="5.31" fill="url(#gC)"/>
<circle cx="155.63" cy="253.36" r="5.31" fill="url(#gC)"/>
<circle cx="153.16" cy="256.72" r="5.31" fill="url(#gC)"/>
<circle cx="167.15" cy="264.38" r="5.31" fill="url(#gC)"/>
<circle cx="167.21" cy="256.05" r="5.31" fill="url(#gC)"/>
<circle cx="159.23" cy="266.91" r="5.31" fill="url(#gC)"/>
<circle cx="159.33" cy="253.44" r="5.31" fill="url(#gC)"/>
<circle cx="154.4" cy="260.15" r="5.31" fill="url(#gC)"/>
<circle cx="164.47" cy="262.34" r="5.31" fill="url(#gC)"/>
<circle cx="164.5" cy="258.17" r="5.31" fill="url(#gC)"/>
<circle cx="160.51" cy="263.6" r="5.31" fill="url(#gC)"/>
<circle cx="160.56" cy="256.87" r="5.31" fill="url(#gC)"/>
<circle cx="158.09" cy="260.22" r="5.31" fill="url(#gC)"/>
<circle cx="160.9" cy="260" r="15.1" fill="url(#shade)" opacity="1.0"/>
<circle cx="168.48" cy="260.67" r="2.44" fill="url(#hl)" opacity="0.38"/>
<circle cx="168.51" cy="256.5" r="2.44" fill="url(#hl)" opacity="0.39"/>
<circle cx="164.49" cy="266.1" r="2.44" fill="url(#hl)" opacity="0.4"/>
<circle cx="160.53" cy="267.36" r="2.44" fill="url(#hl)" opacity="0.44"/>
<circle cx="164.6" cy="251.03" r="2.44" fill="url(#hl)" opacity="0.46"/>
<circle cx="160.66" cy="249.72" r="2.44" fill="url(#hl)" opacity="0.51"/>
<circle cx="154.15" cy="265.25" r="2.44" fill="url(#hl)" opacity="0.52"/>
<circle cx="151.74" cy="261.86" r="2.44" fill="url(#hl)" opacity="0.56"/>
<circle cx="154.25" cy="251.77" r="2.44" fill="url(#hl)" opacity="0.57"/>
<circle cx="151.78" cy="255.13" r="2.44" fill="url(#hl)" opacity="0.59"/>
<circle cx="165.77" cy="262.79" r="2.44" fill="url(#hl)" opacity="0.73"/>
<circle cx="165.83" cy="254.46" r="2.44" fill="url(#hl)" opacity="0.76"/>
<circle cx="157.85" cy="265.32" r="2.44" fill="url(#hl)" opacity="0.81"/>
<circle cx="157.95" cy="251.84" r="2.44" fill="url(#hl)" opacity="0.86"/>
<circle cx="153.02" cy="258.56" r="2.44" fill="url(#hl)" opacity="0.89"/>
<circle cx="163.09" cy="260.74" r="2.44" fill="url(#hl)" opacity="1"/>
<circle cx="163.12" cy="256.58" r="2.44" fill="url(#hl)" opacity="1"/>
<circle cx="159.13" cy="262.01" r="2.44" fill="url(#hl)" opacity="1"/>
<circle cx="159.18" cy="255.27" r="2.44" fill="url(#hl)" opacity="1"/>
<circle cx="156.71" cy="258.63" r="2.44" fill="url(#hl)" opacity="1"/>
</g>
<g>
<circle cx="191.79" cy="269.87" r="5.31" fill="url(#gC)"/>
<circle cx="185.68" cy="266.03" r="5.31" fill="url(#gC)"/>
<circle cx="201.61" cy="266.68" r="5.31" fill="url(#gC)"/>
<circle cx="203.44" cy="256.44" r="5.31" fill="url(#gC)"/>
<circle cx="188.31" cy="268.73" r="5.31" fill="url(#gC)"/>
<circle cx="195.37" cy="270.2" r="5.31" fill="url(#gC)"/>
<circle cx="204.11" cy="260.48" r="5.31" fill="url(#gC)"/>
<circle cx="183.49" cy="259.52" r="5.31" fill="url(#gC)"/>
<circle cx="192.23" cy="249.8" r="5.31" fill="url(#gC)"/>
<circle cx="199.29" cy="251.27" r="5.31" fill="url(#gC)"/>
<circle cx="184.16" cy="263.56" r="5.31" fill="url(#gC)"/>
<circle cx="185.99" cy="253.32" r="5.31" fill="url(#gC)"/>
<circle cx="201.92" cy="253.97" r="5.31" fill="url(#gC)"/>
<circle cx="195.81" cy="250.13" r="5.31" fill="url(#gC)"/>
<circle cx="189.16" cy="251.16" r="5.31" fill="url(#gC)"/>
<circle cx="184.5" cy="256.66" r="5.31" fill="url(#gC)"/>
<circle cx="201.7" cy="265.88" r="5.31" fill="url(#gC)"/>
<circle cx="203.25" cy="262.04" r="5.31" fill="url(#gC)"/>
<circle cx="188.4" cy="267.93" r="5.31" fill="url(#gC)"/>
<circle cx="195.46" cy="269.4" r="5.31" fill="url(#gC)"/>
<circle cx="185.84" cy="264.74" r="5.31" fill="url(#gC)"/>
<circle cx="198.63" cy="267.24" r="5.31" fill="url(#gC)"/>
<circle cx="201.06" cy="255.54" r="5.31" fill="url(#gC)"/>
<circle cx="191.98" cy="268.27" r="5.31" fill="url(#gC)"/>
<circle cx="194.95" cy="251.7" r="5.31" fill="url(#gC)"/>
<circle cx="190.84" cy="252.34" r="5.31" fill="url(#gC)"/>
<circle cx="201.72" cy="259.57" r="5.31" fill="url(#gC)"/>
<circle cx="186.18" cy="257.83" r="5.31" fill="url(#gC)"/>
<circle cx="186.85" cy="261.87" r="5.31" fill="url(#gC)"/>
<circle cx="197.57" cy="254.4" r="5.31" fill="url(#gC)"/>
<circle cx="189.35" cy="255.67" r="5.31" fill="url(#gC)"/>
<circle cx="197.11" cy="264.77" r="5.31" fill="url(#gC)"/>
<circle cx="192.99" cy="265.4" r="5.31" fill="url(#gC)"/>
<circle cx="198.65" cy="260.93" r="5.31" fill="url(#gC)"/>
<circle cx="190.43" cy="262.21" r="5.31" fill="url(#gC)"/>
<circle cx="196.09" cy="257.74" r="5.31" fill="url(#gC)"/>
<circle cx="191.98" cy="258.37" r="5.31" fill="url(#gC)"/>
<circle cx="193.8" cy="260" r="15.1" fill="url(#shade)" opacity="1.0"/>
<circle cx="201.87" cy="260.45" r="2.44" fill="url(#hl)" opacity="0.23"/>
<circle cx="187.02" cy="266.34" r="2.44" fill="url(#hl)" opacity="0.26"/>
<circle cx="194.08" cy="267.81" r="2.44" fill="url(#hl)" opacity="0.28"/>
<circle cx="184.46" cy="263.14" r="2.44" fill="url(#hl)" opacity="0.37"/>
<circle cx="197.25" cy="265.64" r="2.44" fill="url(#hl)" opacity="0.52"/>
<circle cx="199.68" cy="253.94" r="2.44" fill="url(#hl)" opacity="0.56"/>
<circle cx="190.6" cy="266.67" r="2.44" fill="url(#hl)" opacity="0.57"/>
<circle cx="193.57" cy="250.11" r="2.44" fill="url(#hl)" opacity="0.59"/>
<circle cx="189.46" cy="250.74" r="2.44" fill="url(#hl)" opacity="0.62"/>
<circle cx="200.34" cy="257.98" r="2.44" fill="url(#hl)" opacity="0.68"/>
<circle cx="184.8" cy="256.24" r="2.44" fill="url(#hl)" opacity="0.68"/>
<circle cx="185.47" cy="260.28" r="2.44" fill="url(#hl)" opacity="0.8"/>
<circle cx="196.19" cy="252.81" r="2.44" fill="url(#hl)" opacity="0.86"/>
<circle cx="187.97" cy="254.08" r="2.44" fill="url(#hl)" opacity="0.93"/>
<circle cx="195.72" cy="263.17" r="2.44" fill="url(#hl)" opacity="0.97"/>
<circle cx="191.61" cy="263.81" r="2.44" fill="url(#hl)" opacity="1"/>
<circle cx="197.27" cy="259.34" r="2.44" fill="url(#hl)" opacity="1"/>
<circle cx="189.05" cy="260.61" r="2.44" fill="url(#hl)" opacity="1"/>
<circle cx="194.71" cy="256.14" r="2.44" fill="url(#hl)" opacity="1"/>
<circle cx="190.6" cy="256.78" r="2.44" fill="url(#hl)" opacity="1"/>
</g>
<g>
<circle cx="232.75" cy="251.95" r="5.31" fill="url(#gC)"/>
<circle cx="225.83" cy="249.91" r="5.31" fill="url(#gC)"/>
<circle cx="236.87" cy="261.42" r="5.31" fill="url(#gC)"/>
<circle cx="230.42" cy="269.58" r="5.31" fill="url(#gC)"/>
<circle cx="229.6" cy="250.1" r="5.31" fill="url(#gC)"/>
<circle cx="233.89" cy="267.41" r="5.31" fill="url(#gC)"/>
<circle cx="235.38" cy="254.42" r="5.31" fill="url(#gC)"/>
<circle cx="218.02" cy="265.58" r="5.31" fill="url(#gC)"/>
<circle cx="219.51" cy="252.59" r="5.31" fill="url(#gC)"/>
<circle cx="223.8" cy="269.9" r="5.31" fill="url(#gC)"/>
<circle cx="222.98" cy="250.42" r="5.31" fill="url(#gC)"/>
<circle cx="216.53" cy="258.58" r="5.31" fill="url(#gC)"/>
<circle cx="227.57" cy="270.09" r="5.31" fill="url(#gC)"/>
<circle cx="220.65" cy="268.05" r="5.31" fill="url(#gC)"/>
<circle cx="217.01" cy="262.39" r="5.31" fill="url(#gC)"/>
<circle cx="218.05" cy="255.26" r="5.31" fill="url(#gC)"/>
<circle cx="236.35" cy="262.04" r="5.31" fill="url(#gC)"/>
<circle cx="234.5" cy="265.74" r="5.31" fill="url(#gC)"/>
<circle cx="229.08" cy="250.72" r="5.31" fill="url(#gC)"/>
<circle cx="234.86" cy="255.04" r="5.31" fill="url(#gC)"/>
<circle cx="224.98" cy="250.92" r="5.31" fill="url(#gC)"/>
<circle cx="235.34" cy="258.85" r="5.31" fill="url(#gC)"/>
<circle cx="228.18" cy="268.42" r="5.31" fill="url(#gC)"/>
<circle cx="231.7" cy="253.19" r="5.31" fill="url(#gC)"/>
<circle cx="221.26" cy="266.39" r="5.31" fill="url(#gC)"/>
<circle cx="219.02" cy="262.89" r="5.31" fill="url(#gC)"/>
<circle cx="231.65" cy="266.25" r="5.31" fill="url(#gC)"/>
<circle cx="220.05" cy="255.76" r="5.31" fill="url(#gC)"/>
<circle cx="223.52" cy="253.59" r="5.31" fill="url(#gC)"/>
<circle cx="225.03" cy="266.57" r="5.31" fill="url(#gC)"/>
<circle cx="220.54" cy="259.57" r="5.31" fill="url(#gC)"/>
<circle cx="232.49" cy="259.36" r="5.31" fill="url(#gC)"/>
<circle cx="230.24" cy="255.86" r="5.31" fill="url(#gC)"/>
<circle cx="230.64" cy="263.06" r="5.31" fill="url(#gC)"/>
<circle cx="226.15" cy="256.06" r="5.31" fill="url(#gC)"/>
<circle cx="226.55" cy="263.26" r="5.31" fill="url(#gC)"/>
<circle cx="224.3" cy="259.76" r="5.31" fill="url(#gC)"/>
<circle cx="226.7" cy="260" r="15.1" fill="url(#shade)" opacity="1.0"/>
<circle cx="233.12" cy="264.15" r="2.44" fill="url(#hl)" opacity="0.22"/>
<circle cx="227.7" cy="249.12" r="2.44" fill="url(#hl)" opacity="0.26"/>
<circle cx="233.47" cy="253.44" r="2.44" fill="url(#hl)" opacity="0.28"/>
<circle cx="223.6" cy="249.32" r="2.44" fill="url(#hl)" opacity="0.38"/>
<circle cx="233.96" cy="257.26" r="2.44" fill="url(#hl)" opacity="0.52"/>
<circle cx="226.8" cy="266.83" r="2.44" fill="url(#hl)" opacity="0.56"/>
<circle cx="230.32" cy="251.59" r="2.44" fill="url(#hl)" opacity="0.58"/>
<circle cx="219.88" cy="264.8" r="2.44" fill="url(#hl)" opacity="0.59"/>
<circle cx="217.63" cy="261.3" r="2.44" fill="url(#hl)" opacity="0.63"/>
<circle cx="230.27" cy="264.65" r="2.44" fill="url(#hl)" opacity="0.67"/>
<circle cx="218.67" cy="254.17" r="2.44" fill="url(#hl)" opacity="0.69"/>
<circle cx="222.14" cy="251.99" r="2.44" fill="url(#hl)" opacity="0.8"/>
<circle cx="223.65" cy="264.98" r="2.44" fill="url(#hl)" opacity="0.86"/>
<circle cx="219.16" cy="257.98" r="2.44" fill="url(#hl)" opacity="0.93"/>
<circle cx="231.1" cy="257.76" r="2.44" fill="url(#hl)" opacity="0.97"/>
<circle cx="228.86" cy="254.26" r="2.44" fill="url(#hl)" opacity="1"/>
<circle cx="229.26" cy="261.46" r="2.44" fill="url(#hl)" opacity="1"/>
<circle cx="224.77" cy="254.46" r="2.44" fill="url(#hl)" opacity="1"/>
<circle cx="225.17" cy="261.66" r="2.44" fill="url(#hl)" opacity="1"/>
<circle cx="222.92" cy="258.16" r="2.44" fill="url(#hl)" opacity="1"/>
</g>
<rect x="33" y="235" width="11" height="49" fill="url(#fadeL)"/>
<rect x="254" y="235" width="9.5" height="49" fill="url(#fadeR)"/>
<rect x="44.6" y="236" width="202.8" height="46.8" rx="1.6" fill="none" stroke="#ff2a17" stroke-width="3.1" stroke-dasharray="9.9,2.9" stroke-dashoffset="7.5"/>
<text transform="translate(1,312.8) scale(0.92,1)" font-family="Liberation Sans, sans-serif" font-weight="bold" font-size="22.5" fill="#000">d</text>
<text transform="translate(257.6,308) scale(0.92,1)" font-family="Liberation Sans, sans-serif" font-weight="bold" font-size="22.5" fill="#000">e</text>
<g>
<circle cx="42" cy="320.5" r="10.2" fill="url(#gB)"/>
<circle cx="42" cy="355.5" r="10.2" fill="url(#gB)"/>
<circle cx="60" cy="320.5" r="10.2" fill="url(#gB)"/>
<circle cx="60" cy="355.5" r="10.2" fill="url(#gB)"/>
<circle cx="78" cy="320.5" r="10.2" fill="url(#gB)"/>
<circle cx="78" cy="355.5" r="10.2" fill="url(#gB)"/>
<circle cx="96" cy="320.5" r="10.2" fill="url(#gB)"/>
<circle cx="96" cy="355.5" r="10.2" fill="url(#gB)"/>
<circle cx="114" cy="320.5" r="10.2" fill="url(#gB)"/>
<circle cx="114" cy="355.5" r="10.2" fill="url(#gB)"/>
<circle cx="132" cy="320.5" r="10.2" fill="url(#gB)"/>
<circle cx="132" cy="355.5" r="10.2" fill="url(#gB)"/>
<circle cx="33" cy="331" r="9.6" fill="url(#gB)"/>
<circle cx="33" cy="346" r="9.6" fill="url(#gB)"/>
<circle cx="51" cy="331" r="9.6" fill="url(#gB)"/>
<circle cx="51" cy="346" r="9.6" fill="url(#gB)"/>
<circle cx="69" cy="331" r="9.6" fill="url(#gB)"/>
<circle cx="69" cy="346" r="9.6" fill="url(#gB)"/>
<circle cx="87" cy="331" r="9.6" fill="url(#gB)"/>
<circle cx="87" cy="346" r="9.6" fill="url(#gB)"/>
<circle cx="105" cy="331" r="9.6" fill="url(#gB)"/>
<circle cx="105" cy="346" r="9.6" fill="url(#gB)"/>
<circle cx="123" cy="331" r="9.6" fill="url(#gB)"/>
<circle cx="123" cy="346" r="9.6" fill="url(#gB)"/>
<circle cx="54.3" cy="338.5" r="8.6" fill="url(#gB)"/>
<circle cx="85" cy="338.5" r="8.6" fill="url(#gB)"/>
<circle cx="117" cy="338.5" r="8.6" fill="url(#gB)"/>
<circle cx="70" cy="338.5" r="7.6" fill="url(#gB)"/>
<circle cx="101" cy="338.5" r="7.6" fill="url(#gB)"/>
<circle cx="133" cy="338.5" r="7.6" fill="url(#gB)"/>
<path d="M40.4,338 L46,330.8 L51.6,338 L46,345.2 Z" fill="#fb2a1b"/>
<path d="M57,339.6 L62.6,332.4 L68.2,339.6 L62.6,346.8 Z" fill="#fb2a1b"/>
<path d="M71.4,338 L77,330.8 L82.6,338 L77,345.2 Z" fill="#fb2a1b"/>
<path d="M87.4,339.6 L93,332.4 L98.6,339.6 L93,346.8 Z" fill="#fb2a1b"/>
<path d="M103.8,338 L109.4,330.8 L115,338 L109.4,345.2 Z" fill="#fb2a1b"/>
<path d="M119.2,339.6 L124.8,332.4 L130.4,339.6 L124.8,346.8 Z" fill="#fb2a1b"/>
</g>
<g>
<circle cx="210.51" cy="331.95" r="9.5" fill="url(#gL)"/>
<circle cx="183.65" cy="322.25" r="9.5" fill="url(#gL)"/>
<circle cx="176.64" cy="344.5" r="9.5" fill="url(#gL)"/>
<circle cx="206.13" cy="350.47" r="9.5" fill="url(#gL)"/>
<circle cx="192.18" cy="355.65" r="9.5" fill="url(#gL)"/>
<circle cx="210.38" cy="344.44" r="9.5" fill="url(#gL)"/>
<circle cx="185.13" cy="353.8" r="9.5" fill="url(#gL)"/>
<circle cx="201.67" cy="320.8" r="9.5" fill="url(#gL)"/>
<circle cx="176.42" cy="330.16" r="9.5" fill="url(#gL)"/>
<circle cx="194.62" cy="318.95" r="9.5" fill="url(#gL)"/>
<circle cx="180.67" cy="324.13" r="9.5" fill="url(#gL)"/>
<circle cx="210.16" cy="330.1" r="9.5" fill="url(#gL)"/>
<circle cx="203.15" cy="352.35" r="9.5" fill="url(#gL)"/>
<circle cx="176.29" cy="342.65" r="9.5" fill="url(#gL)"/>
<circle cx="196.18" cy="354.94" r="9.5" fill="url(#gL)"/>
<circle cx="205.73" cy="324.52" r="9.5" fill="url(#gL)"/>
<circle cx="210.02" cy="342.6" r="9.5" fill="url(#gL)"/>
<circle cx="176.18" cy="335.48" r="9.5" fill="url(#gL)"/>
<circle cx="184.78" cy="351.95" r="9.5" fill="url(#gL)"/>
<circle cx="209.91" cy="335.42" r="9.5" fill="url(#gL)"/>
<circle cx="191.64" cy="320.83" r="9.5" fill="url(#gL)"/>
<circle cx="184.66" cy="323.42" r="9.5" fill="url(#gL)"/>
<circle cx="180.35" cy="346.38" r="9.5" fill="url(#gL)"/>
<circle cx="205.56" cy="347.49" r="9.5" fill="url(#gL)"/>
<circle cx="191.6" cy="352.66" r="9.5" fill="url(#gL)"/>
<circle cx="202.75" cy="326.4" r="9.5" fill="url(#gL)"/>
<circle cx="180.17" cy="334.78" r="9.5" fill="url(#gL)"/>
<circle cx="195.71" cy="324.56" r="9.5" fill="url(#gL)"/>
<circle cx="205.34" cy="333.14" r="9.5" fill="url(#gL)"/>
<circle cx="184.42" cy="328.74" r="9.5" fill="url(#gL)"/>
<circle cx="182.76" cy="341.51" r="9.5" fill="url(#gL)"/>
<circle cx="200.98" cy="345.2" r="9.5" fill="url(#gL)"/>
<circle cx="194" cy="347.79" r="9.5" fill="url(#gL)"/>
<circle cx="191.24" cy="329.45" r="9.5" fill="url(#gL)"/>
<circle cx="200.87" cy="338.03" r="9.5" fill="url(#gL)"/>
<circle cx="189.58" cy="342.22" r="9.5" fill="url(#gL)"/>
<circle cx="193.83" cy="336.18" r="9.5" fill="url(#gL)"/>
<circle cx="193.4" cy="337.3" r="27" fill="url(#shade)" opacity="0.6"/>
<circle cx="207.55" cy="339.75" r="4.37" fill="url(#hl)" opacity="0.19"/>
<circle cx="173.71" cy="332.63" r="4.37" fill="url(#hl)" opacity="0.22"/>
<circle cx="182.31" cy="349.11" r="4.37" fill="url(#hl)" opacity="0.29"/>
<circle cx="207.44" cy="332.57" r="4.37" fill="url(#hl)" opacity="0.36"/>
<circle cx="189.17" cy="317.98" r="4.37" fill="url(#hl)" opacity="0.37"/>
<circle cx="182.19" cy="320.57" r="4.37" fill="url(#hl)" opacity="0.4"/>
<circle cx="177.88" cy="343.53" r="4.37" fill="url(#hl)" opacity="0.47"/>
<circle cx="203.09" cy="344.64" r="4.37" fill="url(#hl)" opacity="0.48"/>
<circle cx="189.13" cy="349.81" r="4.37" fill="url(#hl)" opacity="0.53"/>
<circle cx="200.28" cy="323.56" r="4.37" fill="url(#hl)" opacity="0.66"/>
<circle cx="177.71" cy="331.93" r="4.37" fill="url(#hl)" opacity="0.75"/>
<circle cx="193.24" cy="321.71" r="4.37" fill="url(#hl)" opacity="0.79"/>
<circle cx="202.87" cy="330.29" r="4.37" fill="url(#hl)" opacity="0.82"/>
<circle cx="181.95" cy="325.89" r="4.37" fill="url(#hl)" opacity="0.83"/>
<circle cx="180.29" cy="338.66" r="4.37" fill="url(#hl)" opacity="0.9"/>
<circle cx="198.51" cy="342.35" r="4.37" fill="url(#hl)" opacity="0.93"/>
<circle cx="191.54" cy="344.94" r="4.37" fill="url(#hl)" opacity="0.96"/>
<circle cx="188.77" cy="326.6" r="4.37" fill="url(#hl)" opacity="1"/>
<circle cx="198.4" cy="335.18" r="4.37" fill="url(#hl)" opacity="1"/>
<circle cx="187.11" cy="339.37" r="4.37" fill="url(#hl)" opacity="1"/>
<circle cx="191.36" cy="333.33" r="4.37" fill="url(#hl)" opacity="1"/>
</g>
<rect x="30" y="294" width="167.6" height="82.4" fill="url(#meshD)"/>
<path d="M30,295 L194.6,295 M30,375.4 L194.6,375.4" stroke="#3b3b3b" stroke-width="1.2"/>
<rect x="14" y="290" width="14" height="90" fill="#fff"/>
<rect x="27.9" y="290" width="26" height="90" fill="url(#fadeL)"/>
<rect x="27.9" y="290" width="12" height="90" fill="url(#fadeL)"/>
<circle cx="213.2" cy="297.2" r="4.3" fill="url(#gW)"/>
<circle cx="221.6" cy="300.8" r="4.3" fill="url(#gW)"/>
<circle cx="214" cy="302.4" r="6.9" fill="url(#gR)"/>
<circle cx="212.6" cy="296.8" r="3.9" fill="url(#gW)"/>
<circle cx="318" cy="336.1" r="38.7" fill="none" stroke="#4d4d4d" stroke-width="13"/>
<circle cx="356.63" cy="338.42" r="9.3" fill="url(#gT)" clip-path="url(#w0)"/>
<circle cx="354.71" cy="348.34" r="9.3" fill="url(#gT)" clip-path="url(#w1)"/>
<circle cx="350.29" cy="357.42" r="9.3" fill="url(#gT)" clip-path="url(#w2)"/>
<circle cx="343.67" cy="365.06" r="9.3" fill="url(#gT)" clip-path="url(#w3)"/>
<circle cx="335.31" cy="370.72" r="9.3" fill="url(#gT)" clip-path="url(#w4)"/>
<circle cx="325.76" cy="374.01" r="9.3" fill="url(#gT)" clip-path="url(#w5)"/>
<circle cx="315.68" cy="374.73" r="9.3" fill="url(#gT)" clip-path="url(#w6)"/>
<circle cx="305.76" cy="372.81" r="9.3" fill="url(#gT)" clip-path="url(#w7)"/>
<circle cx="296.68" cy="368.39" r="9.3" fill="url(#gT)" clip-path="url(#w8)"/>
<circle cx="289.04" cy="361.77" r="9.3" fill="url(#gT)" clip-path="url(#w9)"/>
<circle cx="283.38" cy="353.41" r="9.3" fill="url(#gT)" clip-path="url(#w10)"/>
<circle cx="280.09" cy="343.86" r="9.3" fill="url(#gT)" clip-path="url(#w11)"/>
<circle cx="279.37" cy="333.78" r="9.3" fill="url(#gT)" clip-path="url(#w12)"/>
<circle cx="281.29" cy="323.86" r="9.3" fill="url(#gT)" clip-path="url(#w13)"/>
<circle cx="285.71" cy="314.78" r="9.3" fill="url(#gT)" clip-path="url(#w14)"/>
<circle cx="292.33" cy="307.14" r="9.3" fill="url(#gT)" clip-path="url(#w15)"/>
<circle cx="300.69" cy="301.48" r="9.3" fill="url(#gT)" clip-path="url(#w16)"/>
<circle cx="310.24" cy="298.19" r="9.3" fill="url(#gT)" clip-path="url(#w17)"/>
<circle cx="320.32" cy="297.47" r="9.3" fill="url(#gT)" clip-path="url(#w18)"/>
<circle cx="330.24" cy="299.39" r="9.3" fill="url(#gT)" clip-path="url(#w19)"/>
<circle cx="339.32" cy="303.81" r="9.3" fill="url(#gT)" clip-path="url(#w20)"/>
<circle cx="346.96" cy="310.43" r="9.3" fill="url(#gT)" clip-path="url(#w21)"/>
<circle cx="352.62" cy="318.79" r="9.3" fill="url(#gT)" clip-path="url(#w22)"/>
<circle cx="355.91" cy="328.34" r="9.3" fill="url(#gT)" clip-path="url(#w23)"/>
<path d="M348.93,342.08 L362.67,344.73" stroke="#3a3a3a" stroke-width="1" opacity="0.55"/>
<path d="M346.33,349.88 L358.92,356" stroke="#3a3a3a" stroke-width="1" opacity="0.55"/>
<path d="M341.8,356.74 L352.37,365.91" stroke="#3a3a3a" stroke-width="1" opacity="0.55"/>
<path d="M335.64,362.2 L343.48,373.79" stroke="#3a3a3a" stroke-width="1" opacity="0.55"/>
<path d="M328.29,365.87 L332.86,379.1" stroke="#3a3a3a" stroke-width="1" opacity="0.55"/>
<path d="M320.23,367.52 L321.22,381.49" stroke="#3a3a3a" stroke-width="1" opacity="0.55"/>
<path d="M312.02,367.03 L309.37,380.77" stroke="#3a3a3a" stroke-width="1" opacity="0.55"/>
<path d="M304.22,364.43 L298.1,377.02" stroke="#3a3a3a" stroke-width="1" opacity="0.55"/>
<path d="M297.36,359.9 L288.19,370.47" stroke="#3a3a3a" stroke-width="1" opacity="0.55"/>
<path d="M291.9,353.74 L280.31,361.58" stroke="#3a3a3a" stroke-width="1" opacity="0.55"/>
<path d="M288.23,346.39 L275,350.96" stroke="#3a3a3a" stroke-width="1" opacity="0.55"/>
<path d="M286.58,338.33 L272.61,339.32" stroke="#3a3a3a" stroke-width="1" opacity="0.55"/>
<path d="M287.07,330.12 L273.33,327.47" stroke="#3a3a3a" stroke-width="1" opacity="0.55"/>
<path d="M289.67,322.32 L277.08,316.2" stroke="#3a3a3a" stroke-width="1" opacity="0.55"/>
<path d="M294.2,315.46 L283.63,306.29" stroke="#3a3a3a" stroke-width="1" opacity="0.55"/>
<path d="M300.36,310 L292.52,298.41" stroke="#3a3a3a" stroke-width="1" opacity="0.55"/>
<path d="M307.71,306.33 L303.14,293.1" stroke="#3a3a3a" stroke-width="1" opacity="0.55"/>
<path d="M315.77,304.68 L314.78,290.71" stroke="#3a3a3a" stroke-width="1" opacity="0.55"/>
<path d="M323.98,305.17 L326.63,291.43" stroke="#3a3a3a" stroke-width="1" opacity="0.55"/>
<path d="M331.78,307.77 L337.9,295.18" stroke="#3a3a3a" stroke-width="1" opacity="0.55"/>
<path d="M338.64,312.3 L347.81,301.73" stroke="#3a3a3a" stroke-width="1" opacity="0.55"/>
<path d="M344.1,318.46 L355.69,310.62" stroke="#3a3a3a" stroke-width="1" opacity="0.55"/>
<path d="M347.77,325.81 L361,321.24" stroke="#3a3a3a" stroke-width="1" opacity="0.55"/>
<path d="M349.42,333.87 L363.39,332.88" stroke="#3a3a3a" stroke-width="1" opacity="0.55"/>
<circle cx="318" cy="336.1" r="30.2" fill="#fff"/>
<g>
<circle cx="335.92" cy="340.88" r="9.29" fill="url(#gL)"/>
<circle cx="316.99" cy="354.91" r="9.29" fill="url(#gL)"/>
<circle cx="329.11" cy="351.48" r="9.29" fill="url(#gL)"/>
<circle cx="330.45" cy="323.58" r="9.29" fill="url(#gL)"/>
<circle cx="302.05" cy="344.63" r="9.29" fill="url(#gL)"/>
<circle cx="334.75" cy="329.37" r="9.29" fill="url(#gL)"/>
<circle cx="306.35" cy="350.42" r="9.29" fill="url(#gL)"/>
<circle cx="307.69" cy="322.52" r="9.29" fill="url(#gL)"/>
<circle cx="319.81" cy="319.09" r="9.29" fill="url(#gL)"/>
<circle cx="300.88" cy="333.12" r="9.29" fill="url(#gL)"/>
<circle cx="326.05" cy="321.34" r="9.29" fill="url(#gL)"/>
<circle cx="301.26" cy="339.7" r="9.29" fill="url(#gL)"/>
<circle cx="313.48" cy="320.38" r="9.29" fill="url(#gL)"/>
<circle cx="304.01" cy="327.39" r="9.29" fill="url(#gL)"/>
<circle cx="335.38" cy="340.03" r="9.29" fill="url(#gL)"/>
<circle cx="316.44" cy="354.06" r="9.29" fill="url(#gL)"/>
<circle cx="328.57" cy="350.63" r="9.29" fill="url(#gL)"/>
<circle cx="334.65" cy="332.92" r="9.29" fill="url(#gL)"/>
<circle cx="309.87" cy="351.28" r="9.29" fill="url(#gL)"/>
<circle cx="331.7" cy="344.9" r="9.29" fill="url(#gL)"/>
<circle cx="322.23" cy="351.92" r="9.29" fill="url(#gL)"/>
<circle cx="325.95" cy="324.88" r="9.29" fill="url(#gL)"/>
<circle cx="304.78" cy="340.57" r="9.29" fill="url(#gL)"/>
<circle cx="313.38" cy="323.92" r="9.29" fill="url(#gL)"/>
<circle cx="307.53" cy="328.26" r="9.29" fill="url(#gL)"/>
<circle cx="330.25" cy="330.67" r="9.29" fill="url(#gL)"/>
<circle cx="309.08" cy="346.36" r="9.29" fill="url(#gL)"/>
<circle cx="319.62" cy="326.18" r="9.29" fill="url(#gL)"/>
<circle cx="307.91" cy="334.85" r="9.29" fill="url(#gL)"/>
<circle cx="327.3" cy="342.66" r="9.29" fill="url(#gL)"/>
<circle cx="321.45" cy="346.99" r="9.29" fill="url(#gL)"/>
<circle cx="326.58" cy="335.54" r="9.29" fill="url(#gL)"/>
<circle cx="314.87" cy="344.21" r="9.29" fill="url(#gL)"/>
<circle cx="320" cy="332.76" r="9.29" fill="url(#gL)"/>
<circle cx="314.15" cy="337.1" r="9.29" fill="url(#gL)"/>
<circle cx="318.4" cy="337" r="26.4" fill="url(#shade)" opacity="0.6"/>
<circle cx="326.15" cy="347.84" r="4.27" fill="url(#hl)" opacity="0.21"/>
<circle cx="332.24" cy="330.13" r="4.27" fill="url(#hl)" opacity="0.26"/>
<circle cx="307.45" cy="348.5" r="4.27" fill="url(#hl)" opacity="0.29"/>
<circle cx="329.28" cy="342.12" r="4.27" fill="url(#hl)" opacity="0.49"/>
<circle cx="319.82" cy="349.13" r="4.27" fill="url(#hl)" opacity="0.49"/>
<circle cx="323.54" cy="322.1" r="4.27" fill="url(#hl)" opacity="0.63"/>
<circle cx="302.37" cy="337.78" r="4.27" fill="url(#hl)" opacity="0.66"/>
<circle cx="310.96" cy="321.14" r="4.27" fill="url(#hl)" opacity="0.66"/>
<circle cx="305.11" cy="325.47" r="4.27" fill="url(#hl)" opacity="0.67"/>
<circle cx="327.84" cy="327.89" r="4.27" fill="url(#hl)" opacity="0.72"/>
<circle cx="306.67" cy="343.57" r="4.27" fill="url(#hl)" opacity="0.74"/>
<circle cx="317.2" cy="323.39" r="4.27" fill="url(#hl)" opacity="0.92"/>
<circle cx="305.5" cy="332.06" r="4.27" fill="url(#hl)" opacity="0.93"/>
<circle cx="324.88" cy="339.87" r="4.27" fill="url(#hl)" opacity="0.94"/>
<circle cx="319.03" cy="344.21" r="4.27" fill="url(#hl)" opacity="0.95"/>
<circle cx="324.16" cy="332.76" r="4.27" fill="url(#hl)" opacity="1"/>
<circle cx="312.46" cy="341.43" r="4.27" fill="url(#hl)" opacity="1"/>
<circle cx="317.59" cy="329.98" r="4.27" fill="url(#hl)" opacity="1"/>
<circle cx="311.74" cy="334.31" r="4.27" fill="url(#hl)" opacity="1"/>
</g>
<circle cx="331.8" cy="309.2" r="7.2" fill="url(#gR)"/>
<circle cx="335.8" cy="306.4" r="4.6" fill="url(#gW)"/>
<text x="433.6" y="152" font-family="Liberation Sans, sans-serif" font-weight="bold" font-size="19" fill="#000">f</text>
<text transform="translate(1.4,409.8) scale(0.9,1)" font-family="Liberation Sans, sans-serif" font-weight="bold" font-size="21" fill="#000">g</text>
<text x="432.2" y="405.8" font-family="Liberation Sans, sans-serif" font-weight="bold" font-size="20" fill="#000">h</text>
<g clip-path="url(#clip593)" fill="none" stroke-linejoin="round">
<path d="M431,347.6 C442.5,347.58 480.17,347.62 500,347.5 C519.83,347.38 538.55,347.33 550,346.9 C561.45,346.47 563.5,345.75 568.7,344.9 C573.9,344.05 577.67,343.12 581.2,341.8 C584.73,340.48 587.27,338.77 589.9,337 C592.53,335.23 594.72,332.92 597,331.2 C599.28,329.48 601.05,328.58 603.6,326.7 C606.15,324.82 609.6,322.18 612.3,319.9 C615,317.62 616.85,315.92 619.8,313 C622.75,310.08 625.72,307.07 630,302.4 C634.28,297.73 641.37,289.6 645.5,285 C649.63,280.4 651.17,278.78 654.8,274.8 C658.43,270.82 663.12,265.7 667.3,261.1 C671.48,256.5 677.8,249.52 679.9,247.2" stroke="#000" stroke-width="2.0"/>
<path d="M431,347.6 C442.5,347.58 480.17,347.55 500,347.5 C519.83,347.45 536.47,347.65 550,347.3 C563.53,346.95 574.35,346.13 581.2,345.4 C588.05,344.67 588,344.15 591.1,342.9 C594.2,341.65 597.3,339.87 599.8,337.9 C602.3,335.93 604.22,333.48 606.1,331.1 C607.98,328.72 609.65,326.1 611.1,323.6 C612.55,321.1 613.35,319.22 614.8,316.1 C616.25,312.98 618.13,309.05 619.8,304.9 C621.47,300.75 623.35,295.15 624.8,291.2 C626.25,287.25 627.13,285.6 628.5,281.2 C629.87,276.8 630.68,272.52 633,264.8 C635.32,257.08 639.3,244.87 642.4,234.9 C645.5,224.93 648.12,216.97 651.6,205 C655.08,193.03 660.65,172.6 663.3,163.1 C665.95,153.6 666.8,150.52 667.5,148" stroke="#1414f2" stroke-width="2.1" stroke-dasharray="2,3"/>
<path d="M431,347.4 C433.33,347.37 441.17,347.33 445,347.2 C448.83,347.07 451.5,346.72 454,346.6 C456.5,346.48 457.67,346.45 460,346.5 C462.33,346.55 464.67,346.78 468,346.9 C471.33,347.02 471.33,347.18 480,347.2 C488.67,347.22 508.33,347.08 520,347 C531.67,346.92 541.88,347.07 550,346.7 C558.12,346.33 563.5,345.63 568.7,344.8 C573.9,343.97 577.67,343.05 581.2,341.7 C584.73,340.35 587.2,338.78 589.9,336.7 C592.6,334.62 595.12,332 597.4,329.2 C599.68,326.4 601.53,323.43 603.6,319.9 C605.67,316.37 607.73,312.37 609.8,308 C611.87,303.63 614.13,298.37 616,293.7 C617.87,289.03 618.27,288.13 621,280 C623.73,271.87 628.57,257.4 632.4,244.9 C636.23,232.4 640.18,218.63 644,205 C647.82,191.37 652.72,172.6 655.3,163.1 C657.88,153.6 658.8,150.52 659.5,148" stroke="#1414f2" stroke-width="2.1"/>
</g>
<path d="M430.7,162.6 L679.9,162.6 L679.9,351.6" fill="none" stroke="#000" stroke-width="1.8"/>
<path d="M430.7,161.7 L430.7,351.6 L680.65,351.6" fill="none" stroke="#000" stroke-width="2.4" stroke-linejoin="miter"/>
<path d="M426.8,162.6 L430.7,162.6" stroke="#000" stroke-width="1.6"/>
<text x="424.7" y="167.3" font-family="Liberation Sans, sans-serif" font-weight="bold" font-size="13.2" text-anchor="end" fill="#000">20</text>
<path d="M428.3,208.8 L430.7,208.8" stroke="#000" stroke-width="1.3"/>
<path d="M426.8,255 L430.7,255" stroke="#000" stroke-width="1.6"/>
<text x="424.7" y="259.7" font-family="Liberation Sans, sans-serif" font-weight="bold" font-size="13.2" text-anchor="end" fill="#000">10</text>
<path d="M428.3,301.2 L430.7,301.2" stroke="#000" stroke-width="1.3"/>
<path d="M426.8,347.4 L430.7,347.4" stroke="#000" stroke-width="1.6"/>
<text x="424.7" y="352.1" font-family="Liberation Sans, sans-serif" font-weight="bold" font-size="13.2" text-anchor="end" fill="#000">0</text>
<path d="M430.9,351.6 L430.9,356.1" stroke="#000" stroke-width="1.6"/>
<text x="430.9" y="368.8" font-family="Liberation Sans, sans-serif" font-weight="bold" font-size="13.2" text-anchor="middle" fill="#000">1.0</text>
<path d="M458.55,351.6 L458.55,354.1" stroke="#000" stroke-width="1.3"/>
<path d="M486.2,351.6 L486.2,356.1" stroke="#000" stroke-width="1.6"/>
<text x="486.2" y="368.8" font-family="Liberation Sans, sans-serif" font-weight="bold" font-size="13.2" text-anchor="middle" fill="#000">1.2</text>
<path d="M513.85,351.6 L513.85,354.1" stroke="#000" stroke-width="1.3"/>
<path d="M541.5,351.6 L541.5,356.1" stroke="#000" stroke-width="1.6"/>
<text x="541.5" y="368.8" font-family="Liberation Sans, sans-serif" font-weight="bold" font-size="13.2" text-anchor="middle" fill="#000">1.4</text>
<path d="M569.15,351.6 L569.15,354.1" stroke="#000" stroke-width="1.3"/>
<path d="M596.8,351.6 L596.8,356.1" stroke="#000" stroke-width="1.6"/>
<text x="596.8" y="368.8" font-family="Liberation Sans, sans-serif" font-weight="bold" font-size="13.2" text-anchor="middle" fill="#000">1.6</text>
<path d="M624.45,351.6 L624.45,354.1" stroke="#000" stroke-width="1.3"/>
<path d="M652.1,351.6 L652.1,356.1" stroke="#000" stroke-width="1.6"/>
<text x="652.1" y="368.8" font-family="Liberation Sans, sans-serif" font-weight="bold" font-size="13.2" text-anchor="middle" fill="#000">1.8</text>
<path d="M679.75,351.6 L679.75,354.1" stroke="#000" stroke-width="1.3"/>
<text x="473.7" y="388.6" font-family="Liberation Sans, sans-serif" font-weight="bold" font-size="16.6" textLength="161.8" fill="#000">Potential / V vs RHE</text>
<text transform="translate(399.4,257.7) rotate(-90)" font-family="Liberation Sans, sans-serif" font-weight="bold" font-size="17.9" word-spacing="-0.95" text-anchor="middle" fill="#000">Current Density / mA cm<tspan dy="-7" font-size="10.8">-2</tspan></text>
<path d="M436.8,174.8 L468.4,174.8" stroke="#1414f2" stroke-width="2.3"/>
<text x="471.8" y="179.3" font-family="Liberation Sans, sans-serif" font-weight="bold" font-size="13.5" fill="#000">Co<tspan dy="2.97" font-size="8.64">3</tspan><tspan dy="-2.97" font-size="13.5">O</tspan><tspan dy="2.97" font-size="8.64">4</tspan><tspan dy="-2.97" font-size="13.5">@SWNT</tspan></text>
<path d="M436.8,194.2 L468.4,194.2" stroke="#1414f2" stroke-width="2.3" stroke-dasharray="1.9,2.6"/>
<text x="471.8" y="198.7" font-family="Liberation Sans, sans-serif" font-weight="bold" font-size="13.5" fill="#000">C<tspan dy="2.97" font-size="8.64">60</tspan><tspan dy="-2.97" font-size="13.5">-Co</tspan><tspan dy="2.97" font-size="8.64">3</tspan><tspan dy="-2.97" font-size="13.5">O</tspan><tspan dy="2.97" font-size="8.64">4</tspan><tspan dy="-2.97" font-size="13.5">@SWNT</tspan></text>
<path d="M436.8,213.2 L468.4,213.2" stroke="#000" stroke-width="2.3"/>
<text x="471.8" y="217.7" font-family="Liberation Sans, sans-serif" font-weight="bold" font-size="13.5" fill="#000">SWNT</text>
<rect x="467.6" y="248.6" width="98.7" height="70.6" fill="#fff" stroke="#000" stroke-width="1"/>
<path d="M467.6,248.6 L467.6,319.2 L566.3,319.2" fill="none" stroke="#000" stroke-width="1.7"/>
<g clip-path="url(#clipins)" fill="none">
<path d="M467.6,318.4 C468.83,318.33 472.93,318.3 475,318 C477.07,317.7 478.17,317.23 480,316.6 C481.83,315.97 484,314.93 486,314.2 C488,313.47 490.17,312.7 492,312.2 C493.83,311.7 495.17,311.47 497,311.2 C498.83,310.93 500.83,310.83 503,310.6 C505.17,310.37 507.83,310.1 510,309.8 C512.17,309.5 514.33,309.03 516,308.8 C517.67,308.57 518.33,308.33 520,308.4 C521.67,308.47 524,308.83 526,309.2 C528,309.57 530,310.17 532,310.6 C534,311.03 535.83,311.27 538,311.8 C540.17,312.33 542.67,313.13 545,313.8 C547.33,314.47 549.83,315.23 552,315.8 C554.17,316.37 555.67,316.77 558,317.2 C560.33,317.63 564.67,318.2 566,318.4" stroke="#1414f2" stroke-width="2" stroke-dasharray="1.9,2.5"/>
<path d="M467.6,318.4 C468.33,318.33 470.68,318.3 472,318 C473.32,317.7 474.33,317.52 475.5,316.6 C476.67,315.68 477.75,314.6 479,312.5 C480.25,310.4 481.67,307.25 483,304 C484.33,300.75 485.67,296.75 487,293 C488.33,289.25 489.9,284.43 491,281.5 C492.1,278.57 492.8,276.85 493.6,275.4 C494.4,273.95 495.07,273.17 495.8,272.8 C496.53,272.43 497.13,272.67 498,273.2 C498.87,273.73 500,275.23 501,276 C502,276.77 502.9,277.23 504,277.8 C505.1,278.37 506.43,278.6 507.6,279.4 C508.77,280.2 509.6,281.1 511,282.6 C512.4,284.1 514.33,286.5 516,288.4 C517.67,290.3 519.37,292.27 521,294 C522.63,295.73 523.97,297.13 525.8,298.8 C527.63,300.47 529.97,302.4 532,304 C534.03,305.6 535.72,306.9 538,308.4 C540.28,309.9 543.37,311.8 545.7,313 C548.03,314.2 549.95,314.9 552,315.6 C554.05,316.3 555.6,316.73 558,317.2 C560.4,317.67 565,318.2 566.4,318.4" stroke="#1414f2" stroke-width="2.5"/>
</g>
<text x="465.6" y="257.2" font-family="Liberation Sans, sans-serif" font-weight="bold" font-size="9" text-anchor="end" fill="#000">0.12</text>
<path d="M466,254 L467.6,254" stroke="#000" stroke-width="0.8"/>
<text x="465.6" y="277.8" font-family="Liberation Sans, sans-serif" font-weight="bold" font-size="9" text-anchor="end" fill="#000">0.08</text>
<path d="M466,274.6 L467.6,274.6" stroke="#000" stroke-width="0.8"/>
<text x="465.6" y="299" font-family="Liberation Sans, sans-serif" font-weight="bold" font-size="9" text-anchor="end" fill="#000">0.04</text>
<path d="M466,295.8 L467.6,295.8" stroke="#000" stroke-width="0.8"/>
<text x="465.6" y="320.4" font-family="Liberation Sans, sans-serif" font-weight="bold" font-size="9" text-anchor="end" fill="#000">0.00</text>
<path d="M466,317.2 L467.6,317.2" stroke="#000" stroke-width="0.8"/>
<text x="495.6" y="329.8" font-family="Liberation Sans, sans-serif" font-weight="bold" font-size="9" text-anchor="middle" fill="#000">1.1</text>
<path d="M495.6,319.2 L495.6,320.8" stroke="#000" stroke-width="0.8"/>
<text x="539.4" y="329.8" font-family="Liberation Sans, sans-serif" font-weight="bold" font-size="9" text-anchor="middle" fill="#000">1.2</text>
<path d="M539.4,319.2 L539.4,320.8" stroke="#000" stroke-width="0.8"/>
<g clip-path="url(#clip492)" fill="none" stroke-linejoin="round">
<path d="M78.4,598.8 C87,598.78 114.73,598.73 130,598.7 C145.27,598.67 159.18,598.68 170,598.6 C180.82,598.52 187.63,598.37 194.9,598.2 C202.17,598.03 209.03,597.92 213.6,597.6 C218.17,597.28 219.6,596.97 222.3,596.3 C225,595.63 227.3,594.78 229.8,593.6 C232.3,592.42 234.8,590.87 237.3,589.2 C239.8,587.53 242.68,585.25 244.8,583.6 C246.92,581.95 247.72,581.33 250,579.3 C252.28,577.27 255.05,574.62 258.5,571.4 C261.95,568.18 266.93,563.57 270.7,560 C274.47,556.43 276.67,554.62 281.1,550 C285.53,545.38 292.48,537.63 297.3,532.3 C302.12,526.97 304.98,523.67 310,518 C315.02,512.33 324.5,501.58 327.4,498.3" stroke="#000" stroke-width="2.0"/>
<path d="M80.4,599 C85.67,598.95 102.9,598.82 112,598.7 C121.1,598.58 128.33,598.45 135,598.3 C141.67,598.15 146.73,597.98 152,597.8 C157.27,597.62 162.6,597.4 166.6,597.2 C170.6,597 173.02,596.83 176,596.6 C178.98,596.37 181.83,596.15 184.5,595.8 C187.17,595.45 189.93,594.97 192,594.5 C194.07,594.03 194.83,593.77 196.9,593 C198.97,592.23 201.9,591.35 204.4,589.9 C206.9,588.45 209.4,586.48 211.9,584.3 C214.4,582.12 216.92,579.7 219.4,576.8 C221.88,573.9 224.32,570.42 226.8,566.9 C229.28,563.38 231.95,559.45 234.3,555.7 C236.65,551.95 238.78,548.18 240.9,544.4 C243.02,540.62 244.33,538.12 247,533 C249.67,527.88 253.17,520.78 256.9,513.7 C260.63,506.62 265.53,497.72 269.39,490.5 C273.26,483.28 276.99,476.23 280.1,470.37 C283.2,464.5 284.72,461.72 288.02,455.29 C291.33,448.87 296.35,438.65 299.94,431.82 C303.54,424.99 306.84,419.27 309.6,414.3 C312.36,409.33 315.35,404.05 316.5,402" stroke="#f5821f" stroke-width="2.1" stroke-dasharray="1.9,2.5"/>
<path d="M78.4,598.3 C83.67,598.25 100.9,598.12 110,598 C119.1,597.88 126.33,597.75 133,597.6 C139.67,597.45 144.73,597.28 150,597.1 C155.27,596.92 160.6,596.7 164.6,596.5 C168.6,596.3 171.02,596.13 174,595.9 C176.98,595.67 179.83,595.45 182.5,595.1 C185.17,594.75 187.93,594.27 190,593.8 C192.07,593.33 192.83,593.07 194.9,592.3 C196.97,591.53 199.9,590.65 202.4,589.2 C204.9,587.75 207.4,585.78 209.9,583.6 C212.4,581.42 214.92,579 217.4,576.1 C219.88,573.2 222.32,569.72 224.8,566.2 C227.28,562.68 229.95,558.75 232.3,555 C234.65,551.25 236.78,547.48 238.9,543.7 C241.02,539.92 242.33,537.42 245,532.3 C247.67,527.18 251.17,520.08 254.9,513 C258.63,505.92 263.45,496.98 267.4,489.8 C271.35,482.62 275.35,475.7 278.6,469.9 C281.85,464.1 283.43,461.35 286.9,455 C290.37,448.65 295.7,438.58 299.4,431.8 C303.1,425.02 306.33,419.27 309.1,414.3 C311.87,409.33 314.85,404.05 316,402" stroke="#f5821f" stroke-width="2.1"/>
</g>
<path d="M78.8,413.8 L327.4,413.8 L327.4,602.5" fill="none" stroke="#000" stroke-width="1.8"/>
<path d="M78.8,412.9 L78.8,602.5 L328.15,602.5" fill="none" stroke="#000" stroke-width="2.4" stroke-linejoin="miter"/>
<path d="M74.9,413.6 L78.8,413.6" stroke="#000" stroke-width="1.6"/>
<text x="72.8" y="417.8" font-family="Liberation Sans, sans-serif" font-weight="bold" font-size="13.2" text-anchor="end" fill="#000">20</text>
<path d="M76.4,436.7 L78.8,436.7" stroke="#000" stroke-width="1.3"/>
<path d="M74.9,459.8 L78.8,459.8" stroke="#000" stroke-width="1.6"/>
<text x="72.8" y="464" font-family="Liberation Sans, sans-serif" font-weight="bold" font-size="13.2" text-anchor="end" fill="#000">15</text>
<path d="M76.4,482.9 L78.8,482.9" stroke="#000" stroke-width="1.3"/>
<path d="M74.9,506 L78.8,506" stroke="#000" stroke-width="1.6"/>
<text x="72.8" y="510.2" font-family="Liberation Sans, sans-serif" font-weight="bold" font-size="13.2" text-anchor="end" fill="#000">10</text>
<path d="M76.4,529.1 L78.8,529.1" stroke="#000" stroke-width="1.3"/>
<path d="M74.9,552.2 L78.8,552.2" stroke="#000" stroke-width="1.6"/>
<text x="72.8" y="556.4" font-family="Liberation Sans, sans-serif" font-weight="bold" font-size="13.2" text-anchor="end" fill="#000">5</text>
<path d="M76.4,575.3 L78.8,575.3" stroke="#000" stroke-width="1.3"/>
<path d="M74.9,598.4 L78.8,598.4" stroke="#000" stroke-width="1.6"/>
<text x="72.8" y="602.6" font-family="Liberation Sans, sans-serif" font-weight="bold" font-size="13.2" text-anchor="end" fill="#000">0</text>
<path d="M78.3,602.5 L78.3,607" stroke="#000" stroke-width="1.6"/>
<text x="78.3" y="619.6" font-family="Liberation Sans, sans-serif" font-weight="bold" font-size="13.2" text-anchor="middle" fill="#000">1.0</text>
<path d="M105.95,602.5 L105.95,605" stroke="#000" stroke-width="1.3"/>
<path d="M133.6,602.5 L133.6,607" stroke="#000" stroke-width="1.6"/>
<text x="133.6" y="619.6" font-family="Liberation Sans, sans-serif" font-weight="bold" font-size="13.2" text-anchor="middle" fill="#000">1.2</text>
<path d="M161.25,602.5 L161.25,605" stroke="#000" stroke-width="1.3"/>
<path d="M188.9,602.5 L188.9,607" stroke="#000" stroke-width="1.6"/>
<text x="188.9" y="619.6" font-family="Liberation Sans, sans-serif" font-weight="bold" font-size="13.2" text-anchor="middle" fill="#000">1.4</text>
<path d="M216.55,602.5 L216.55,605" stroke="#000" stroke-width="1.3"/>
<path d="M244.2,602.5 L244.2,607" stroke="#000" stroke-width="1.6"/>
<text x="244.2" y="619.6" font-family="Liberation Sans, sans-serif" font-weight="bold" font-size="13.2" text-anchor="middle" fill="#000">1.6</text>
<path d="M271.85,602.5 L271.85,605" stroke="#000" stroke-width="1.3"/>
<path d="M299.5,602.5 L299.5,607" stroke="#000" stroke-width="1.6"/>
<text x="299.5" y="619.6" font-family="Liberation Sans, sans-serif" font-weight="bold" font-size="13.2" text-anchor="middle" fill="#000">1.8</text>
<path d="M327.15,602.5 L327.15,605" stroke="#000" stroke-width="1.3"/>
<text x="121.5" y="639.2" font-family="Liberation Sans, sans-serif" font-weight="bold" font-size="16.6" textLength="161.8" fill="#000">Potential / V vs RHE</text>
<text transform="translate(47.1,508.75) rotate(-90)" font-family="Liberation Sans, sans-serif" font-weight="bold" font-size="17.9" word-spacing="-0.95" text-anchor="middle" fill="#000">Current Density / mA cm<tspan dy="-7" font-size="10.8">-2</tspan></text>
<path d="M81.8,424.8 L113.4,424.8" stroke="#f5821f" stroke-width="2.3"/>
<text x="116.8" y="429.3" font-family="Liberation Sans, sans-serif" font-weight="bold" font-size="13.5" fill="#000">RuO<tspan dy="2.97" font-size="8.64">2</tspan><tspan dy="-2.97" font-size="13.5">@SWNT</tspan></text>
<path d="M81.8,444.2 L113.4,444.2" stroke="#f5821f" stroke-width="2.3" stroke-dasharray="1.9,2.6"/>
<text x="116.8" y="448.7" font-family="Liberation Sans, sans-serif" font-weight="bold" font-size="13.5" fill="#000">C<tspan dy="2.97" font-size="8.64">60</tspan><tspan dy="-2.97" font-size="13.5">-RuO</tspan><tspan dy="2.97" font-size="8.64">2</tspan><tspan dy="-2.97" font-size="13.5">@SWNT</tspan></text>
<path d="M81.8,464.2 L113.4,464.2" stroke="#000" stroke-width="2.3"/>
<text x="116.8" y="468.7" font-family="Liberation Sans, sans-serif" font-weight="bold" font-size="13.5" fill="#000">SWNT</text>
<g clip-path="url(#clip844)" fill="none" stroke-linejoin="round">
<path d="M431,598.3 C442.5,598.28 483.5,598.25 500,598.2 C516.5,598.15 519.8,598.15 530,598 C540.2,597.85 554.13,597.67 561.2,597.3 C568.27,596.93 569.3,596.42 572.4,595.8 C575.5,595.18 577.32,594.6 579.8,593.6 C582.28,592.6 584.8,591.37 587.3,589.8 C589.8,588.23 592.3,586.17 594.8,584.2 C597.3,582.23 599.77,580.28 602.3,578 C604.83,575.72 606.97,573.47 610,570.5 C613.03,567.53 616.97,563.68 620.5,560.2 C624.03,556.72 626.73,554.25 631.2,549.6 C635.67,544.95 641.67,538.4 647.3,532.3 C652.93,526.2 659.57,518.95 665,513 C670.43,507.05 677.42,499.33 679.9,496.6" stroke="#000" stroke-width="2.0"/>
<path d="M431,598 C439.17,597.98 463.5,597.95 480,597.9 C496.5,597.85 517.93,597.82 530,597.7 C542.07,597.58 547.42,597.52 552.4,597.2 C557.38,596.88 557.4,596.5 559.9,595.8 C562.4,595.1 565.12,594.4 567.4,593 C569.68,591.6 571.53,589.68 573.6,587.4 C575.67,585.12 577.72,582.32 579.8,579.3 C581.88,576.28 584.02,572.73 586.1,569.3 C588.18,565.87 590.35,562.08 592.3,558.7 C594.25,555.32 595.9,552.57 597.8,549 C599.7,545.43 600.85,542.78 603.7,537.3 C606.55,531.82 610.95,523.58 614.9,516.1 C618.85,508.62 623.38,500.08 627.4,492.4 C631.42,484.72 636.5,474.8 639,470 C641.5,465.2 639.77,468.83 642.4,463.6 C645.03,458.37 650.85,446.6 654.8,438.6 C658.75,430.6 663.15,421.7 666.1,415.6 C669.05,409.5 671.43,404.27 672.5,402" stroke="#a424f4" stroke-width="2.1" stroke-dasharray="2,3"/>
<path d="M431,597.9 C439.17,597.88 463.5,597.85 480,597.8 C496.5,597.75 517.93,597.72 530,597.6 C542.07,597.48 547.42,597.45 552.4,597.1 C557.38,596.75 557.62,596.4 559.9,595.5 C562.18,594.6 564.02,593.47 566.1,591.7 C568.18,589.93 570.32,587.5 572.4,584.9 C574.48,582.3 576.53,579.43 578.6,576.1 C580.67,572.77 582.72,568.73 584.8,564.9 C586.88,561.07 589.02,557.25 591.1,553.1 C593.18,548.95 595,545.13 597.3,540 C599.6,534.87 601.75,529.82 604.9,522.3 C608.05,514.78 612.47,503.62 616.2,494.9 C619.93,486.18 625.02,475.22 627.3,470 C629.58,464.78 627.38,469.23 629.9,463.6 C632.42,457.97 638.55,444.42 642.4,436.2 C646.25,427.98 650.23,420 653,414.3 C655.77,408.6 658,404.05 659,402" stroke="#a424f4" stroke-width="2.1"/>
</g>
<path d="M430.6,413.8 L679.9,413.8 L679.9,602.5" fill="none" stroke="#000" stroke-width="1.8"/>
<path d="M430.6,412.9 L430.6,602.5 L680.65,602.5" fill="none" stroke="#000" stroke-width="2.4" stroke-linejoin="miter"/>
<path d="M426.7,413.6 L430.6,413.6" stroke="#000" stroke-width="1.6"/>
<text x="424.6" y="417.8" font-family="Liberation Sans, sans-serif" font-weight="bold" font-size="13.2" text-anchor="end" fill="#000">20</text>
<path d="M428.2,436.7 L430.6,436.7" stroke="#000" stroke-width="1.3"/>
<path d="M426.7,459.8 L430.6,459.8" stroke="#000" stroke-width="1.6"/>
<text x="424.6" y="464" font-family="Liberation Sans, sans-serif" font-weight="bold" font-size="13.2" text-anchor="end" fill="#000">15</text>
<path d="M428.2,482.9 L430.6,482.9" stroke="#000" stroke-width="1.3"/>
<path d="M426.7,506 L430.6,506" stroke="#000" stroke-width="1.6"/>
<text x="424.6" y="510.2" font-family="Liberation Sans, sans-serif" font-weight="bold" font-size="13.2" text-anchor="end" fill="#000">10</text>
<path d="M428.2,529.1 L430.6,529.1" stroke="#000" stroke-width="1.3"/>
<path d="M426.7,552.2 L430.6,552.2" stroke="#000" stroke-width="1.6"/>
<text x="424.6" y="556.4" font-family="Liberation Sans, sans-serif" font-weight="bold" font-size="13.2" text-anchor="end" fill="#000">5</text>
<path d="M428.2,575.3 L430.6,575.3" stroke="#000" stroke-width="1.3"/>
<path d="M426.7,598.4 L430.6,598.4" stroke="#000" stroke-width="1.6"/>
<text x="424.6" y="602.6" font-family="Liberation Sans, sans-serif" font-weight="bold" font-size="13.2" text-anchor="end" fill="#000">0</text>
<path d="M430.8,602.5 L430.8,607" stroke="#000" stroke-width="1.6"/>
<text x="430.8" y="619.6" font-family="Liberation Sans, sans-serif" font-weight="bold" font-size="13.2" text-anchor="middle" fill="#000">1.0</text>
<path d="M458.45,602.5 L458.45,605" stroke="#000" stroke-width="1.3"/>
<path d="M486.1,602.5 L486.1,607" stroke="#000" stroke-width="1.6"/>
<text x="486.1" y="619.6" font-family="Liberation Sans, sans-serif" font-weight="bold" font-size="13.2" text-anchor="middle" fill="#000">1.2</text>
<path d="M513.75,602.5 L513.75,605" stroke="#000" stroke-width="1.3"/>
<path d="M541.4,602.5 L541.4,607" stroke="#000" stroke-width="1.6"/>
<text x="541.4" y="619.6" font-family="Liberation Sans, sans-serif" font-weight="bold" font-size="13.2" text-anchor="middle" fill="#000">1.4</text>
<path d="M569.05,602.5 L569.05,605" stroke="#000" stroke-width="1.3"/>
<path d="M596.7,602.5 L596.7,607" stroke="#000" stroke-width="1.6"/>
<text x="596.7" y="619.6" font-family="Liberation Sans, sans-serif" font-weight="bold" font-size="13.2" text-anchor="middle" fill="#000">1.6</text>
<path d="M624.35,602.5 L624.35,605" stroke="#000" stroke-width="1.3"/>
<path d="M652,602.5 L652,607" stroke="#000" stroke-width="1.6"/>
<text x="652" y="619.6" font-family="Liberation Sans, sans-serif" font-weight="bold" font-size="13.2" text-anchor="middle" fill="#000">1.8</text>
<path d="M679.65,602.5 L679.65,605" stroke="#000" stroke-width="1.3"/>
<text x="473.65" y="639.2" font-family="Liberation Sans, sans-serif" font-weight="bold" font-size="16.6" textLength="161.8" fill="#000">Potential / V vs RHE</text>
<text transform="translate(399.5,508.65) rotate(-90)" font-family="Liberation Sans, sans-serif" font-weight="bold" font-size="17.9" word-spacing="-0.95" text-anchor="middle" fill="#000">Current Density / mA cm<tspan dy="-7" font-size="10.8">-2</tspan></text>
<path d="M433.2,426 L464.8,426" stroke="#a424f4" stroke-width="2.3"/>
<text x="468.2" y="430.5" font-family="Liberation Sans, sans-serif" font-weight="bold" font-size="13.5" fill="#000">IrO<tspan dy="2.97" font-size="8.64">2</tspan><tspan dy="-2.97" font-size="13.5">@SWNT</tspan></text>
<path d="M433.2,445.4 L464.8,445.4" stroke="#a424f4" stroke-width="2.3" stroke-dasharray="1.9,2.6"/>
<text x="468.2" y="449.9" font-family="Liberation Sans, sans-serif" font-weight="bold" font-size="13.5" fill="#000">C<tspan dy="2.97" font-size="8.64">60</tspan><tspan dy="-2.97" font-size="13.5">-IrO</tspan><tspan dy="2.97" font-size="8.64">2</tspan><tspan dy="-2.97" font-size="13.5">@SWNT</tspan></text>
<path d="M433.2,465 L464.8,465" stroke="#000" stroke-width="2.3"/>
<text x="468.2" y="469.5" font-family="Liberation Sans, sans-serif" font-weight="bold" font-size="13.5" fill="#000">SWNT</text>
</svg>
</body></html>
